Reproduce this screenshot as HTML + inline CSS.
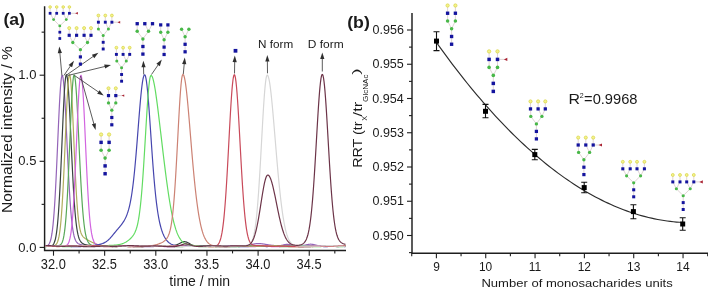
<!DOCTYPE html>
<html><head><meta charset="utf-8"><style>
html,body{margin:0;padding:0;background:#fff;}
svg{display:block;will-change:transform;filter:blur(0.45px);}
text{font-family:"Liberation Sans",sans-serif;fill:#1a1a1a;}
.t11{font-size:11.2px;}
.t13{font-size:13px;}
.t14{font-size:14px;}
.t15{font-size:15.3px;}
.sub{font-size:9px;}
.sup{font-size:9px;}
.lab{font-size:17px;font-weight:bold;fill:#000;}
</style></head><body>
<svg width="708" height="289" viewBox="0 0 708 289">
<rect width="708" height="289" fill="#fff"/>
<path d="M44.6 6.2 V250.4 H346" fill="none" stroke="#1e1e1e" stroke-width="1.45"/>
<line x1="39.6" y1="247.40" x2="44.6" y2="247.40" stroke="#1e1e1e" stroke-width="1.1"/>
<line x1="41.6" y1="204.35" x2="44.6" y2="204.35" stroke="#1e1e1e" stroke-width="1.1"/>
<line x1="39.6" y1="161.30" x2="44.6" y2="161.30" stroke="#1e1e1e" stroke-width="1.1"/>
<line x1="41.6" y1="118.25" x2="44.6" y2="118.25" stroke="#1e1e1e" stroke-width="1.1"/>
<line x1="39.6" y1="75.20" x2="44.6" y2="75.20" stroke="#1e1e1e" stroke-width="1.1"/>
<line x1="41.6" y1="32.15" x2="44.6" y2="32.15" stroke="#1e1e1e" stroke-width="1.1"/>
<line x1="53.50" y1="250.4" x2="53.50" y2="255.70000000000002" stroke="#1e1e1e" stroke-width="1.1"/>
<line x1="79.08" y1="250.4" x2="79.08" y2="253.4" stroke="#1e1e1e" stroke-width="1.1"/>
<line x1="104.65" y1="250.4" x2="104.65" y2="255.70000000000002" stroke="#1e1e1e" stroke-width="1.1"/>
<line x1="130.22" y1="250.4" x2="130.22" y2="253.4" stroke="#1e1e1e" stroke-width="1.1"/>
<line x1="155.80" y1="250.4" x2="155.80" y2="255.70000000000002" stroke="#1e1e1e" stroke-width="1.1"/>
<line x1="181.38" y1="250.4" x2="181.38" y2="253.4" stroke="#1e1e1e" stroke-width="1.1"/>
<line x1="206.95" y1="250.4" x2="206.95" y2="255.70000000000002" stroke="#1e1e1e" stroke-width="1.1"/>
<line x1="232.53" y1="250.4" x2="232.53" y2="253.4" stroke="#1e1e1e" stroke-width="1.1"/>
<line x1="258.10" y1="250.4" x2="258.10" y2="255.70000000000002" stroke="#1e1e1e" stroke-width="1.1"/>
<line x1="283.67" y1="250.4" x2="283.67" y2="253.4" stroke="#1e1e1e" stroke-width="1.1"/>
<line x1="309.25" y1="250.4" x2="309.25" y2="255.70000000000002" stroke="#1e1e1e" stroke-width="1.1"/>
<line x1="334.82" y1="250.4" x2="334.82" y2="253.4" stroke="#1e1e1e" stroke-width="1.1"/>
<text x="18.33" y="251.50" font-size="13.4" textLength="18.09" lengthAdjust="spacingAndGlyphs" >0.0</text>
<text x="18.33" y="165.40" font-size="13.4" textLength="18.09" lengthAdjust="spacingAndGlyphs" >0.5</text>
<text x="18.33" y="79.30" font-size="13.4" textLength="18.09" lengthAdjust="spacingAndGlyphs" >1.0</text>
<text x="40.84" y="269.30" font-size="13.8" textLength="24.94" lengthAdjust="spacingAndGlyphs" >32.0</text>
<text x="91.99" y="269.30" font-size="13.8" textLength="24.94" lengthAdjust="spacingAndGlyphs" >32.5</text>
<text x="143.14" y="269.30" font-size="13.8" textLength="24.94" lengthAdjust="spacingAndGlyphs" >33.0</text>
<text x="194.29" y="269.30" font-size="13.8" textLength="24.94" lengthAdjust="spacingAndGlyphs" >33.5</text>
<text x="245.44" y="269.30" font-size="13.8" textLength="24.94" lengthAdjust="spacingAndGlyphs" >34.0</text>
<text x="296.59" y="269.30" font-size="13.8" textLength="24.94" lengthAdjust="spacingAndGlyphs" >34.5</text>
<text x="169.39" y="286.10" font-size="13.8" textLength="60.71" lengthAdjust="spacingAndGlyphs" >time / min</text>
<text transform="translate(11.90,213.04) rotate(-90)" font-size="14.9" textLength="166.91" lengthAdjust="spacingAndGlyphs" >Normalized intensity / %</text>
<text x="3.42" y="25.00" font-size="17.0" font-weight="bold" textLength="21.51" lengthAdjust="spacingAndGlyphs" >(a)</text>
<path d="M45.50 246.34 L46.00 246.23 L46.50 246.09 L47.00 245.89 L47.50 245.62 L48.00 245.24 L48.50 244.74 L49.00 244.07 L49.50 243.18 L50.00 242.02 L50.50 240.52 L51.00 238.61 L51.50 236.20 L52.00 233.21 L52.50 229.55 L53.00 225.14 L53.50 219.90 L54.00 213.77 L54.50 206.71 L55.00 198.72 L55.50 189.81 L56.00 180.06 L56.50 169.58 L57.00 158.53 L57.50 147.12 L58.00 135.60 L58.50 124.27 L59.00 113.42 L59.50 103.39 L60.00 94.48 L60.50 87.00 L61.00 81.20 L61.50 77.29 L62.00 75.41 L62.50 75.59 L63.00 77.65 L63.50 81.50 L64.00 87.02 L64.50 94.02 L65.00 102.29 L65.50 111.58 L66.00 121.61 L66.50 132.12 L67.00 142.84 L67.50 153.53 L68.00 163.95 L68.50 173.94 L69.00 183.32 L69.50 192.01 L70.00 199.91 L70.50 206.99 L71.00 213.25 L71.50 218.70 L72.00 223.39 L72.50 227.37 L73.00 230.70 L73.50 233.47 L74.00 235.74 L74.50 237.59 L75.00 239.07 L75.50 240.26 L76.00 241.21 L76.50 241.96 L77.00 242.55 L77.50 243.03 L78.00 243.41 L78.50 243.71 L79.00 243.96 L79.50 244.17 L80.00 244.35 L80.50 244.50 L81.00 244.64 L81.50 244.76 L82.00 244.87 L82.50 244.97 L83.00 245.06 L83.50 245.15 L84.00 245.23 L84.50 245.31 L85.00 245.38 L85.50 245.45 L86.00 245.52 L86.50 245.58 L87.00 245.63 L87.50 245.69 L88.00 245.73 L88.50 245.78 L89.00 245.82 L89.50 245.86 L90.00 245.89 L90.50 245.92 L91.00 245.95 L91.50 245.97 L92.00 245.99 L92.50 246.00 L93.00 246.01 L93.50 246.02 L94.00 246.03 L94.50 246.03 L95.00 246.02 L95.50 246.02 L96.00 246.01 L96.50 246.00 L97.00 245.99 L97.50 245.97 L98.00 245.95 L98.50 245.94 L99.00 245.92 L99.50 245.90 L100.00 245.88 L100.50 245.86 L101.00 245.83 L101.50 245.81 L102.00 245.80 L102.50 245.78 L103.00 245.76 L103.50 245.75 L104.00 245.73 L104.50 245.72 L105.00 245.72 L105.50 245.71 L106.00 245.71 L106.50 245.71 L107.00 245.71 L107.50 245.72 L108.00 245.73 L108.50 245.74 L109.00 245.76 L109.50 245.77 L110.00 245.80 L110.50 245.82 L111.00 245.84 L111.50 245.87 L112.00 245.90 L112.50 245.93 L113.00 245.97 L113.50 246.00 L114.00 246.04 L114.50 246.07 L115.00 246.10 L115.50 246.14 L116.00 246.17 L116.50 246.21 L117.00 246.24 L117.50 246.27 L118.00 246.30 L118.50 246.32 L119.00 246.35 L119.50 246.37 L120.00 246.39 L120.50 246.40 L121.00 246.42 L121.50 246.43 L122.00 246.44 L122.50 246.44 L123.00 246.44 L123.50 246.44 L124.00 246.44 L124.50 246.44 L125.00 246.43 L125.50 246.42 L126.00 246.41 L126.50 246.40 L127.00 246.39 L127.50 246.38 L128.00 246.37 L128.50 246.35 L129.00 246.34 L129.50 246.33 L130.00 246.31 L130.50 246.30 L131.00 246.29 L131.50 246.28 L132.00 246.28 L132.50 246.27 L133.00 246.27 L133.50 246.27 L134.00 246.27 L134.50 246.28 L135.00 246.28 L135.50 246.29 L136.00 246.30 L136.50 246.32 L137.00 246.33 L137.50 246.35 L138.00 246.37 L138.50 246.39 L139.00 246.41 L139.50 246.44 L140.00 246.46 L140.50 246.48 L141.00 246.51 L141.50 246.54 L142.00 246.56 L142.50 246.58 L143.00 246.61 L143.50 246.63 L144.00 246.65 L144.50 246.67 L145.00 246.68 L145.50 246.70 L146.00 246.71 L146.50 246.72 L147.00 246.72 L147.50 246.72 L148.00 246.72 L148.50 246.72 L149.00 246.71 L149.50 246.70 L150.00 246.69 L150.50 246.67 L151.00 246.65 L151.50 246.63 L152.00 246.61 L152.50 246.58 L153.00 246.56 L153.50 246.53 L154.00 246.50 L154.50 246.46 L155.00 246.43 L155.50 246.40 L156.00 246.36 L156.50 246.33 L157.00 246.30 L157.50 246.27 L158.00 246.24 L158.50 246.21 L159.00 246.18 L159.50 246.16 L160.00 246.13 L160.50 246.11 L161.00 246.09 L161.50 246.08 L162.00 246.07 L162.50 246.05 L163.00 246.05 L163.50 246.04 L164.00 246.04 L164.50 246.04 L165.00 246.04 L165.50 246.04 L166.00 246.05 L166.50 246.06 L167.00 246.07 L167.50 246.08 L168.00 246.09 L168.50 246.10 L169.00 246.11 L169.50 246.12 L170.00 246.13 L170.50 246.15 L171.00 246.16 L171.50 246.17 L172.00 246.17 L172.50 246.18 L173.00 246.18 L173.50 246.19 L174.00 246.19 L174.50 246.19 L175.00 246.18 L175.50 246.17 L176.00 246.17 L176.50 246.15 L177.00 246.14 L177.50 246.12 L178.00 246.10 L178.50 246.08 L179.00 246.06 L179.50 246.04 L180.00 246.01 L180.50 245.99 L181.00 245.96 L181.50 245.93 L182.00 245.90 L182.50 245.87 L183.00 245.85 L183.50 245.82 L184.00 245.79 L184.50 245.77 L185.00 245.75 L185.50 245.72 L186.00 245.70 L186.50 245.69 L187.00 245.67 L187.50 245.66 L188.00 245.65 L188.50 245.65 L189.00 245.65 L189.50 245.65 L190.00 245.65 L190.50 245.66 L191.00 245.67 L191.50 245.68 L192.00 245.70 L192.50 245.71 L193.00 245.74 L193.50 245.76 L194.00 245.78 L194.50 245.81 L195.00 245.84 L195.50 245.87 L196.00 245.90 L196.50 245.93 L197.00 245.96 L197.50 245.99 L198.00 246.02 L198.50 246.05 L199.00 246.08 L199.50 246.10 L200.00 246.13 L200.50 246.15 L201.00 246.17 L201.50 246.19 L202.00 246.21 L202.50 246.22 L203.00 246.24 L203.50 246.25 L204.00 246.25 L204.50 246.26 L205.00 246.26 L205.50 246.26 L206.00 246.26 L206.50 246.25 L207.00 246.25 L207.50 246.24 L208.00 246.23 L208.50 246.22 L209.00 246.21 L209.50 246.20 L210.00 246.18 L210.50 246.17 L211.00 246.16 L211.50 246.15 L212.00 246.14 L212.50 246.13 L213.00 246.13 L213.50 246.12 L214.00 246.12 L214.50 246.12 L215.00 246.12 L215.50 246.12 L216.00 246.13 L216.50 246.14 L217.00 246.15 L217.50 246.16 L218.00 246.18 L218.50 246.20 L219.00 246.22 L219.50 246.24 L220.00 246.27 L220.50 246.29 L221.00 246.32 L221.50 246.35 L222.00 246.38 L222.50 246.41 L223.00 246.44 L223.50 246.47 L224.00 246.50 L224.50 246.53 L225.00 246.56 L225.50 246.59 L226.00 246.62 L226.50 246.64 L227.00 246.66 L227.50 246.68 L228.00 246.70 L228.50 246.71 L229.00 246.72 L229.50 246.73 L230.00 246.74 L230.50 246.74 L231.00 246.74 L231.50 246.74 L232.00 246.73 L232.50 246.72 L233.00 246.70 L233.50 246.69 L234.00 246.67 L234.50 246.64 L235.00 246.62 L235.50 246.59 L236.00 246.56 L236.50 246.53 L237.00 246.50 L237.50 246.46 L238.00 246.43 L238.50 246.39 L239.00 246.35 L239.50 246.31 L240.00 246.27 L240.50 246.22 L241.00 246.18 L241.50 246.13 L242.00 246.08 L242.50 246.03 L243.00 245.97 L243.50 245.92 L244.00 245.85 L244.50 245.79 L245.00 245.72 L245.50 245.65 L246.00 245.58 L246.50 245.50 L247.00 245.42 L247.50 245.33 L248.00 245.24 L248.50 245.14 L249.00 245.05 L249.50 244.94 L250.00 244.84 L250.50 244.73 L251.00 244.63 L251.50 244.52 L252.00 244.41 L252.50 244.31 L253.00 244.21 L253.50 244.11 L254.00 244.02 L254.50 243.93 L255.00 243.85 L255.50 243.78 L256.00 243.72 L256.50 243.67 L257.00 243.62 L257.50 243.59 L258.00 243.57 L258.50 243.57 L259.00 243.57 L259.50 243.58 L260.00 243.61 L260.50 243.64 L261.00 243.69 L261.50 243.74 L262.00 243.80 L262.50 243.87 L263.00 243.95 L263.50 244.02 L264.00 244.11 L264.50 244.19 L265.00 244.28 L265.50 244.36 L266.00 244.45 L266.50 244.54 L267.00 244.62 L267.50 244.70 L268.00 244.78 L268.50 244.86 L269.00 244.93 L269.50 245.00 L270.00 245.06 L270.50 245.13 L271.00 245.19 L271.50 245.24 L272.00 245.30 L272.50 245.35 L273.00 245.39 L273.50 245.44 L274.00 245.48 L274.50 245.52 L275.00 245.55 L275.50 245.59 L276.00 245.61 L276.50 245.64 L277.00 245.65 L277.50 245.66 L278.00 245.66 L278.50 245.65 L279.00 245.63 L279.50 245.60 L280.00 245.55 L280.50 245.49 L281.00 245.42 L281.50 245.33 L282.00 245.23 L282.50 245.13 L283.00 245.01 L283.50 244.90 L284.00 244.78 L284.50 244.68 L285.00 244.58 L285.50 244.50 L286.00 244.44 L286.50 244.40 L287.00 244.39 L287.50 244.40 L288.00 244.43 L288.50 244.49 L289.00 244.56 L289.50 244.65 L290.00 244.76 L290.50 244.87 L291.00 244.99 L291.50 245.10 L292.00 245.21 L292.50 245.32 L293.00 245.42 L293.50 245.50 L294.00 245.58 L294.50 245.64 L295.00 245.69 L295.50 245.74 L296.00 245.77 L296.50 245.79 L297.00 245.81 L297.50 245.82 L298.00 245.82 L298.50 245.82 L299.00 245.81 L299.50 245.80 L300.00 245.78 L300.50 245.75 L301.00 245.71 L301.50 245.67 L302.00 245.62 L302.50 245.56 L303.00 245.49 L303.50 245.41 L304.00 245.32 L304.50 245.22 L305.00 245.12 L305.50 245.01 L306.00 244.90 L306.50 244.79 L307.00 244.68 L307.50 244.58 L308.00 244.48 L308.50 244.40 L309.00 244.32 L309.50 244.27 L310.00 244.23 L310.50 244.22 L311.00 244.22 L311.50 244.25 L312.00 244.30 L312.50 244.36 L313.00 244.45 L313.50 244.55 L314.00 244.66 L314.50 244.78 L315.00 244.91 L315.50 245.05 L316.00 245.18 L316.50 245.31 L317.00 245.44 L317.50 245.56 L318.00 245.67 L318.50 245.77 L319.00 245.87 L319.50 245.95 L320.00 246.02 L320.50 246.08 L321.00 246.12 L321.50 246.17 L322.00 246.20 L322.50 246.22 L323.00 246.24 L323.50 246.26 L324.00 246.27 L324.50 246.28 L325.00 246.28 L325.50 246.29 L326.00 246.29 L326.50 246.30 L327.00 246.31 L327.50 246.31 L328.00 246.32 L328.50 246.33 L329.00 246.34 L329.50 246.35 L330.00 246.37 L330.50 246.38 L331.00 246.39 L331.50 246.41 L332.00 246.43 L332.50 246.44 L333.00 246.46 L333.50 246.47 L334.00 246.49 L334.50 246.50 L335.00 246.51 L335.50 246.52 L336.00 246.53 L336.50 246.54 L337.00 246.54 L337.50 246.54 L338.00 246.54 L338.50 246.54 L339.00 246.53 L339.50 246.52 L340.00 246.51 L340.50 246.50 L341.00 246.48 L341.50 246.46 L342.00 246.44 L342.50 246.41 L343.00 246.38 L343.50 246.35 L344.00 246.32 L344.50 246.29 L345.00 246.26 L345.50 246.22" fill="none" stroke="#9464b8" stroke-width="1.2" stroke-linejoin="round"/>
<path d="M45.50 246.30 L46.00 246.31 L46.50 246.31 L47.00 246.31 L47.50 246.31 L48.00 246.31 L48.50 246.31 L49.00 246.30 L49.50 246.27 L50.00 246.23 L50.50 246.16 L51.00 246.05 L51.50 245.88 L52.00 245.64 L52.50 245.30 L53.00 244.82 L53.50 244.16 L54.00 243.27 L54.50 242.08 L55.00 240.53 L55.50 238.54 L56.00 236.02 L56.50 232.87 L57.00 229.01 L57.50 224.34 L58.00 218.78 L58.50 212.28 L59.00 204.79 L59.50 196.32 L60.00 186.91 L60.50 176.65 L61.00 165.67 L61.50 154.16 L62.00 142.37 L62.50 130.58 L63.00 119.11 L63.50 108.30 L64.00 98.50 L64.50 90.03 L65.00 83.20 L65.50 78.26 L66.00 75.38 L66.50 74.68 L67.00 76.00 L67.50 79.22 L68.00 84.21 L68.50 90.82 L69.00 98.82 L69.50 107.95 L70.00 117.94 L70.50 128.49 L71.00 139.34 L71.50 150.20 L72.00 160.85 L72.50 171.07 L73.00 180.71 L73.50 189.63 L74.00 197.76 L74.50 205.05 L75.00 211.50 L75.50 217.12 L76.00 221.95 L76.50 226.06 L77.00 229.50 L77.50 232.37 L78.00 234.72 L78.50 236.65 L79.00 238.21 L79.50 239.47 L80.00 240.49 L80.50 241.31 L81.00 241.97 L81.50 242.51 L82.00 242.96 L82.50 243.32 L83.00 243.63 L83.50 243.90 L84.00 244.12 L84.50 244.32 L85.00 244.49 L85.50 244.65 L86.00 244.78 L86.50 244.90 L87.00 245.01 L87.50 245.11 L88.00 245.19 L88.50 245.27 L89.00 245.33 L89.50 245.39 L90.00 245.44 L90.50 245.48 L91.00 245.52 L91.50 245.55 L92.00 245.58 L92.50 245.60 L93.00 245.62 L93.50 245.64 L94.00 245.65 L94.50 245.66 L95.00 245.67 L95.50 245.69 L96.00 245.70 L96.50 245.71 L97.00 245.72 L97.50 245.73 L98.00 245.75 L98.50 245.76 L99.00 245.78 L99.50 245.80 L100.00 245.82 L100.50 245.85 L101.00 245.87 L101.50 245.90 L102.00 245.93 L102.50 245.96 L103.00 246.00 L103.50 246.03 L104.00 246.07 L104.50 246.10 L105.00 246.14 L105.50 246.17 L106.00 246.21 L106.50 246.25 L107.00 246.28 L107.50 246.32 L108.00 246.35 L108.50 246.38 L109.00 246.41 L109.50 246.44 L110.00 246.46 L110.50 246.49 L111.00 246.51 L111.50 246.52 L112.00 246.54 L112.50 246.55 L113.00 246.56 L113.50 246.57 L114.00 246.57 L114.50 246.57 L115.00 246.57 L115.50 246.56 L116.00 246.55 L116.50 246.54 L117.00 246.53 L117.50 246.52 L118.00 246.51 L118.50 246.49 L119.00 246.47 L119.50 246.46 L120.00 246.44 L120.50 246.43 L121.00 246.41 L121.50 246.39 L122.00 246.38 L122.50 246.37 L123.00 246.36 L123.50 246.35 L124.00 246.34 L124.50 246.33 L125.00 246.33 L125.50 246.33 L126.00 246.33 L126.50 246.33 L127.00 246.34 L127.50 246.34 L128.00 246.35 L128.50 246.36 L129.00 246.38 L129.50 246.39 L130.00 246.41 L130.50 246.43 L131.00 246.45 L131.50 246.47 L132.00 246.49 L132.50 246.51 L133.00 246.53 L133.50 246.55 L134.00 246.57 L134.50 246.59 L135.00 246.60 L135.50 246.62 L136.00 246.63 L136.50 246.64 L137.00 246.65 L137.50 246.65 L138.00 246.66 L138.50 246.66 L139.00 246.65 L139.50 246.65 L140.00 246.64 L140.50 246.63 L141.00 246.61 L141.50 246.60 L142.00 246.57 L142.50 246.55 L143.00 246.53 L143.50 246.50 L144.00 246.47 L144.50 246.44 L145.00 246.40 L145.50 246.37 L146.00 246.34 L146.50 246.30 L147.00 246.27 L147.50 246.23 L148.00 246.20 L148.50 246.16 L149.00 246.13 L149.50 246.10 L150.00 246.07 L150.50 246.04 L151.00 246.02 L151.50 245.99 L152.00 245.97 L152.50 245.95 L153.00 245.94 L153.50 245.93 L154.00 245.92 L154.50 245.91 L155.00 245.91 L155.50 245.90 L156.00 245.91 L156.50 245.91 L157.00 245.92 L157.50 245.92 L158.00 245.93 L158.50 245.94 L159.00 245.96 L159.50 245.97 L160.00 245.98 L160.50 246.00 L161.00 246.01 L161.50 246.02 L162.00 246.04 L162.50 246.05 L163.00 246.06 L163.50 246.07 L164.00 246.08 L164.50 246.09 L165.00 246.09 L165.50 246.09 L166.00 246.09 L166.50 246.09 L167.00 246.09 L167.50 246.08 L168.00 246.07 L168.50 246.05 L169.00 246.03 L169.50 246.01 L170.00 245.98 L170.50 245.95 L171.00 245.91 L171.50 245.87 L172.00 245.82 L172.50 245.76 L173.00 245.69 L173.50 245.61 L174.00 245.51 L174.50 245.41 L175.00 245.28 L175.50 245.14 L176.00 244.99 L176.50 244.81 L177.00 244.62 L177.50 244.41 L178.00 244.18 L178.50 243.94 L179.00 243.69 L179.50 243.44 L180.00 243.18 L180.50 242.92 L181.00 242.67 L181.50 242.44 L182.00 242.23 L182.50 242.04 L183.00 241.90 L183.50 241.78 L184.00 241.72 L184.50 241.69 L185.00 241.72 L185.50 241.79 L186.00 241.90 L186.50 242.06 L187.00 242.25 L187.50 242.48 L188.00 242.73 L188.50 243.00 L189.00 243.29 L189.50 243.58 L190.00 243.87 L190.50 244.16 L191.00 244.43 L191.50 244.70 L192.00 244.94 L192.50 245.16 L193.00 245.36 L193.50 245.54 L194.00 245.70 L194.50 245.83 L195.00 245.95 L195.50 246.04 L196.00 246.12 L196.50 246.18 L197.00 246.23 L197.50 246.26 L198.00 246.29 L198.50 246.31 L199.00 246.32 L199.50 246.32 L200.00 246.32 L200.50 246.32 L201.00 246.31 L201.50 246.30 L202.00 246.29 L202.50 246.28 L203.00 246.27 L203.50 246.26 L204.00 246.25 L204.50 246.25 L205.00 246.24 L205.50 246.24 L206.00 246.23 L206.50 246.23 L207.00 246.24 L207.50 246.24 L208.00 246.25 L208.50 246.26 L209.00 246.27 L209.50 246.28 L210.00 246.30 L210.50 246.32 L211.00 246.34 L211.50 246.36 L212.00 246.38 L212.50 246.41 L213.00 246.43 L213.50 246.46 L214.00 246.49 L214.50 246.51 L215.00 246.54 L215.50 246.57 L216.00 246.59 L216.50 246.61 L217.00 246.64 L217.50 246.66 L218.00 246.68 L218.50 246.69 L219.00 246.71 L219.50 246.72 L220.00 246.73 L220.50 246.73 L221.00 246.74 L221.50 246.74 L222.00 246.73 L222.50 246.73 L223.00 246.72 L223.50 246.70 L224.00 246.69 L224.50 246.67 L225.00 246.65 L225.50 246.63 L226.00 246.60 L226.50 246.57 L227.00 246.55 L227.50 246.52 L228.00 246.48 L228.50 246.45 L229.00 246.42 L229.50 246.39 L230.00 246.36 L230.50 246.33 L231.00 246.30 L231.50 246.27 L232.00 246.24 L232.50 246.22 L233.00 246.19 L233.50 246.17 L234.00 246.15 L234.50 246.14 L235.00 246.12 L235.50 246.11 L236.00 246.10 L236.50 246.10 L237.00 246.09 L237.50 246.09 L238.00 246.09 L238.50 246.09 L239.00 246.10 L239.50 246.11 L240.00 246.11 L240.50 246.12 L241.00 246.13 L241.50 246.15 L242.00 246.16 L242.50 246.17 L243.00 246.18 L243.50 246.19 L244.00 246.20 L244.50 246.21 L245.00 246.22 L245.50 246.23 L246.00 246.23 L246.50 246.23 L247.00 246.23 L247.50 246.23 L248.00 246.23 L248.50 246.22 L249.00 246.21 L249.50 246.20 L250.00 246.19 L250.50 246.17 L251.00 246.15 L251.50 246.13 L252.00 246.11 L252.50 246.08 L253.00 246.06 L253.50 246.03 L254.00 246.00 L254.50 245.97 L255.00 245.94 L255.50 245.91 L256.00 245.88 L256.50 245.85 L257.00 245.82 L257.50 245.80 L258.00 245.77 L258.50 245.75 L259.00 245.73 L259.50 245.71 L260.00 245.69 L260.50 245.67 L261.00 245.66 L261.50 245.65 L262.00 245.65 L262.50 245.64 L263.00 245.64 L263.50 245.65 L264.00 245.65 L264.50 245.66 L265.00 245.68 L265.50 245.69 L266.00 245.71 L266.50 245.73 L267.00 245.75 L267.50 245.78 L268.00 245.80 L268.50 245.83 L269.00 245.86 L269.50 245.89 L270.00 245.92 L270.50 245.94 L271.00 245.97 L271.50 246.00 L272.00 246.03 L272.50 246.05 L273.00 246.08 L273.50 246.10 L274.00 246.12 L274.50 246.14 L275.00 246.16 L275.50 246.17 L276.00 246.19 L276.50 246.20 L277.00 246.20 L277.50 246.21 L278.00 246.21 L278.50 246.21 L279.00 246.21 L279.50 246.20 L280.00 246.20 L280.50 246.19 L281.00 246.18 L281.50 246.17 L282.00 246.16 L282.50 246.15 L283.00 246.14 L283.50 246.13 L284.00 246.11 L284.50 246.10 L285.00 246.09 L285.50 246.08 L286.00 246.08 L286.50 246.07 L287.00 246.07 L287.50 246.07 L288.00 246.07 L288.50 246.07 L289.00 246.07 L289.50 246.08 L290.00 246.09 L290.50 246.11 L291.00 246.12 L291.50 246.14 L292.00 246.16 L292.50 246.18 L293.00 246.21 L293.50 246.23 L294.00 246.26 L294.50 246.29 L295.00 246.32 L295.50 246.36 L296.00 246.39 L296.50 246.42 L297.00 246.45 L297.50 246.48 L298.00 246.52 L298.50 246.55 L299.00 246.57 L299.50 246.60 L300.00 246.63 L300.50 246.65 L301.00 246.67 L301.50 246.69 L302.00 246.70 L302.50 246.71 L303.00 246.72 L303.50 246.73 L304.00 246.73 L304.50 246.73 L305.00 246.73 L305.50 246.72 L306.00 246.71 L306.50 246.70 L307.00 246.68 L307.50 246.67 L308.00 246.65 L308.50 246.63 L309.00 246.60 L309.50 246.58 L310.00 246.56 L310.50 246.53 L311.00 246.50 L311.50 246.48 L312.00 246.45 L312.50 246.43 L313.00 246.40 L313.50 246.38 L314.00 246.36 L314.50 246.34 L315.00 246.32 L315.50 246.30 L316.00 246.29 L316.50 246.28 L317.00 246.27 L317.50 246.26 L318.00 246.25 L318.50 246.25 L319.00 246.25 L319.50 246.25 L320.00 246.26 L320.50 246.26 L321.00 246.27 L321.50 246.28 L322.00 246.29 L322.50 246.30 L323.00 246.32 L323.50 246.33 L324.00 246.34 L324.50 246.35 L325.00 246.37 L325.50 246.38 L326.00 246.39 L326.50 246.40 L327.00 246.41 L327.50 246.41 L328.00 246.42 L328.50 246.42 L329.00 246.42 L329.50 246.41 L330.00 246.41 L330.50 246.40 L331.00 246.39 L331.50 246.37 L332.00 246.36 L332.50 246.34 L333.00 246.32 L333.50 246.29 L334.00 246.27 L334.50 246.24 L335.00 246.21 L335.50 246.18 L336.00 246.15 L336.50 246.11 L337.00 246.08 L337.50 246.04 L338.00 246.01 L338.50 245.98 L339.00 245.94 L339.50 245.91 L340.00 245.88 L340.50 245.85 L341.00 245.82 L341.50 245.80 L342.00 245.77 L342.50 245.75 L343.00 245.74 L343.50 245.72 L344.00 245.71 L344.50 245.70 L345.00 245.70 L345.50 245.69" fill="none" stroke="#38423f" stroke-width="1.2" stroke-linejoin="round"/>
<path d="M45.50 246.37 L46.00 246.37 L46.50 246.38 L47.00 246.38 L47.50 246.37 L48.00 246.37 L48.50 246.36 L49.00 246.35 L49.50 246.33 L50.00 246.31 L50.50 246.29 L51.00 246.26 L51.50 246.22 L52.00 246.18 L52.50 246.12 L53.00 246.04 L53.50 245.94 L54.00 245.80 L54.50 245.61 L55.00 245.35 L55.50 245.01 L56.00 244.54 L56.50 243.91 L57.00 243.08 L57.50 241.98 L58.00 240.55 L58.50 238.72 L59.00 236.39 L59.50 233.48 L60.00 229.90 L60.50 225.55 L61.00 220.35 L61.50 214.23 L62.00 207.14 L62.50 199.08 L63.00 190.05 L63.50 180.14 L64.00 169.45 L64.50 158.16 L65.00 146.49 L65.50 134.70 L66.00 123.11 L66.50 112.04 L67.00 101.85 L67.50 92.87 L68.00 85.40 L68.50 79.74 L69.00 76.07 L69.50 74.55 L70.00 75.29 L70.50 78.34 L71.00 83.58 L71.50 90.78 L72.00 99.65 L72.50 109.83 L73.00 120.93 L73.50 132.57 L74.00 144.37 L74.50 155.99 L75.00 167.13 L75.50 177.57 L76.00 187.13 L76.50 195.71 L77.00 203.26 L77.50 209.79 L78.00 215.33 L78.50 219.96 L79.00 223.77 L79.50 226.87 L80.00 229.36 L80.50 231.35 L81.00 232.92 L81.50 234.16 L82.00 235.15 L82.50 235.94 L83.00 236.58 L83.50 237.11 L84.00 237.57 L84.50 237.97 L85.00 238.33 L85.50 238.67 L86.00 238.98 L86.50 239.28 L87.00 239.57 L87.50 239.86 L88.00 240.13 L88.50 240.41 L89.00 240.68 L89.50 240.94 L90.00 241.20 L90.50 241.46 L91.00 241.71 L91.50 241.96 L92.00 242.20 L92.50 242.44 L93.00 242.67 L93.50 242.90 L94.00 243.12 L94.50 243.33 L95.00 243.54 L95.50 243.74 L96.00 243.94 L96.50 244.13 L97.00 244.31 L97.50 244.48 L98.00 244.64 L98.50 244.80 L99.00 244.95 L99.50 245.09 L100.00 245.22 L100.50 245.35 L101.00 245.46 L101.50 245.57 L102.00 245.67 L102.50 245.76 L103.00 245.85 L103.50 245.92 L104.00 245.99 L104.50 246.05 L105.00 246.11 L105.50 246.15 L106.00 246.19 L106.50 246.23 L107.00 246.26 L107.50 246.28 L108.00 246.30 L108.50 246.31 L109.00 246.33 L109.50 246.33 L110.00 246.33 L110.50 246.34 L111.00 246.33 L111.50 246.33 L112.00 246.33 L112.50 246.32 L113.00 246.31 L113.50 246.31 L114.00 246.30 L114.50 246.29 L115.00 246.29 L115.50 246.29 L116.00 246.28 L116.50 246.28 L117.00 246.28 L117.50 246.28 L118.00 246.29 L118.50 246.29 L119.00 246.30 L119.50 246.31 L120.00 246.32 L120.50 246.33 L121.00 246.35 L121.50 246.36 L122.00 246.38 L122.50 246.39 L123.00 246.41 L123.50 246.43 L124.00 246.45 L124.50 246.46 L125.00 246.48 L125.50 246.49 L126.00 246.51 L126.50 246.52 L127.00 246.53 L127.50 246.54 L128.00 246.55 L128.50 246.55 L129.00 246.55 L129.50 246.55 L130.00 246.55 L130.50 246.54 L131.00 246.53 L131.50 246.52 L132.00 246.51 L132.50 246.49 L133.00 246.47 L133.50 246.44 L134.00 246.42 L134.50 246.39 L135.00 246.36 L135.50 246.33 L136.00 246.29 L136.50 246.26 L137.00 246.23 L137.50 246.19 L138.00 246.15 L138.50 246.12 L139.00 246.08 L139.50 246.05 L140.00 246.02 L140.50 245.98 L141.00 245.95 L141.50 245.93 L142.00 245.90 L142.50 245.88 L143.00 245.85 L143.50 245.84 L144.00 245.82 L144.50 245.81 L145.00 245.80 L145.50 245.79 L146.00 245.79 L146.50 245.79 L147.00 245.79 L147.50 245.79 L148.00 245.80 L148.50 245.81 L149.00 245.82 L149.50 245.83 L150.00 245.85 L150.50 245.86 L151.00 245.88 L151.50 245.90 L152.00 245.92 L152.50 245.93 L153.00 245.95 L153.50 245.97 L154.00 245.99 L154.50 246.00 L155.00 246.01 L155.50 246.03 L156.00 246.04 L156.50 246.04 L157.00 246.05 L157.50 246.06 L158.00 246.06 L158.50 246.06 L159.00 246.05 L159.50 246.05 L160.00 246.04 L160.50 246.03 L161.00 246.02 L161.50 246.01 L162.00 245.99 L162.50 245.98 L163.00 245.96 L163.50 245.94 L164.00 245.92 L164.50 245.90 L165.00 245.89 L165.50 245.87 L166.00 245.85 L166.50 245.83 L167.00 245.82 L167.50 245.80 L168.00 245.79 L168.50 245.78 L169.00 245.77 L169.50 245.76 L170.00 245.76 L170.50 245.76 L171.00 245.76 L171.50 245.77 L172.00 245.77 L172.50 245.79 L173.00 245.80 L173.50 245.82 L174.00 245.84 L174.50 245.86 L175.00 245.88 L175.50 245.91 L176.00 245.94 L176.50 245.97 L177.00 246.00 L177.50 246.04 L178.00 246.07 L178.50 246.11 L179.00 246.14 L179.50 246.18 L180.00 246.21 L180.50 246.25 L181.00 246.28 L181.50 246.31 L182.00 246.34 L182.50 246.37 L183.00 246.40 L183.50 246.42 L184.00 246.45 L184.50 246.47 L185.00 246.48 L185.50 246.50 L186.00 246.51 L186.50 246.51 L187.00 246.52 L187.50 246.52 L188.00 246.52 L188.50 246.52 L189.00 246.51 L189.50 246.51 L190.00 246.50 L190.50 246.49 L191.00 246.47 L191.50 246.46 L192.00 246.45 L192.50 246.43 L193.00 246.42 L193.50 246.40 L194.00 246.39 L194.50 246.37 L195.00 246.36 L195.50 246.35 L196.00 246.34 L196.50 246.33 L197.00 246.32 L197.50 246.31 L198.00 246.31 L198.50 246.31 L199.00 246.31 L199.50 246.32 L200.00 246.32 L200.50 246.33 L201.00 246.34 L201.50 246.35 L202.00 246.37 L202.50 246.38 L203.00 246.40 L203.50 246.42 L204.00 246.44 L204.50 246.46 L205.00 246.49 L205.50 246.51 L206.00 246.53 L206.50 246.55 L207.00 246.57 L207.50 246.59 L208.00 246.61 L208.50 246.63 L209.00 246.65 L209.50 246.66 L210.00 246.67 L210.50 246.68 L211.00 246.68 L211.50 246.69 L212.00 246.69 L212.50 246.69 L213.00 246.68 L213.50 246.67 L214.00 246.66 L214.50 246.64 L215.00 246.63 L215.50 246.61 L216.00 246.58 L216.50 246.56 L217.00 246.53 L217.50 246.50 L218.00 246.47 L218.50 246.44 L219.00 246.40 L219.50 246.37 L220.00 246.33 L220.50 246.30 L221.00 246.26 L221.50 246.23 L222.00 246.20 L222.50 246.17 L223.00 246.14 L223.50 246.11 L224.00 246.08 L224.50 246.06 L225.00 246.04 L225.50 246.02 L226.00 246.00 L226.50 245.99 L227.00 245.97 L227.50 245.97 L228.00 245.96 L228.50 245.96 L229.00 245.96 L229.50 245.96 L230.00 245.96 L230.50 245.97 L231.00 245.98 L231.50 245.99 L232.00 246.00 L232.50 246.01 L233.00 246.02 L233.50 246.03 L234.00 246.05 L234.50 246.06 L235.00 246.07 L235.50 246.08 L236.00 246.10 L236.50 246.11 L237.00 246.11 L237.50 246.12 L238.00 246.12 L238.50 246.13 L239.00 246.13 L239.50 246.12 L240.00 246.12 L240.50 246.11 L241.00 246.10 L241.50 246.09 L242.00 246.08 L242.50 246.06 L243.00 246.05 L243.50 246.03 L244.00 246.00 L244.50 245.98 L245.00 245.96 L245.50 245.93 L246.00 245.91 L246.50 245.88 L247.00 245.86 L247.50 245.83 L248.00 245.81 L248.50 245.78 L249.00 245.76 L249.50 245.74 L250.00 245.72 L250.50 245.71 L251.00 245.69 L251.50 245.68 L252.00 245.67 L252.50 245.67 L253.00 245.66 L253.50 245.66 L254.00 245.67 L254.50 245.67 L255.00 245.68 L255.50 245.69 L256.00 245.71 L256.50 245.73 L257.00 245.75 L257.50 245.77 L258.00 245.80 L258.50 245.82 L259.00 245.85 L259.50 245.88 L260.00 245.91 L260.50 245.95 L261.00 245.98 L261.50 246.01 L262.00 246.04 L262.50 246.08 L263.00 246.11 L263.50 246.14 L264.00 246.17 L264.50 246.19 L265.00 246.22 L265.50 246.24 L266.00 246.26 L266.50 246.28 L267.00 246.30 L267.50 246.31 L268.00 246.32 L268.50 246.33 L269.00 246.34 L269.50 246.34 L270.00 246.34 L270.50 246.34 L271.00 246.33 L271.50 246.33 L272.00 246.32 L272.50 246.31 L273.00 246.30 L273.50 246.29 L274.00 246.28 L274.50 246.27 L275.00 246.25 L275.50 246.24 L276.00 246.23 L276.50 246.22 L277.00 246.21 L277.50 246.20 L278.00 246.20 L278.50 246.19 L279.00 246.19 L279.50 246.19 L280.00 246.19 L280.50 246.20 L281.00 246.20 L281.50 246.21 L282.00 246.23 L282.50 246.24 L283.00 246.26 L283.50 246.27 L284.00 246.30 L284.50 246.32 L285.00 246.34 L285.50 246.37 L286.00 246.39 L286.50 246.42 L287.00 246.45 L287.50 246.48 L288.00 246.51 L288.50 246.54 L289.00 246.56 L289.50 246.59 L290.00 246.62 L290.50 246.64 L291.00 246.66 L291.50 246.68 L292.00 246.70 L292.50 246.71 L293.00 246.73 L293.50 246.73 L294.00 246.74 L294.50 246.74 L295.00 246.74 L295.50 246.74 L296.00 246.73 L296.50 246.73 L297.00 246.71 L297.50 246.70 L298.00 246.68 L298.50 246.66 L299.00 246.64 L299.50 246.61 L300.00 246.59 L300.50 246.56 L301.00 246.53 L301.50 246.50 L302.00 246.47 L302.50 246.44 L303.00 246.41 L303.50 246.38 L304.00 246.35 L304.50 246.32 L305.00 246.30 L305.50 246.27 L306.00 246.25 L306.50 246.23 L307.00 246.21 L307.50 246.19 L308.00 246.18 L308.50 246.16 L309.00 246.15 L309.50 246.15 L310.00 246.14 L310.50 246.14 L311.00 246.14 L311.50 246.14 L312.00 246.15 L312.50 246.15 L313.00 246.16 L313.50 246.17 L314.00 246.18 L314.50 246.19 L315.00 246.20 L315.50 246.22 L316.00 246.23 L316.50 246.24 L317.00 246.25 L317.50 246.26 L318.00 246.27 L318.50 246.27 L319.00 246.28 L319.50 246.28 L320.00 246.28 L320.50 246.28 L321.00 246.28 L321.50 246.27 L322.00 246.26 L322.50 246.25 L323.00 246.24 L323.50 246.22 L324.00 246.20 L324.50 246.18 L325.00 246.16 L325.50 246.14 L326.00 246.11 L326.50 246.08 L327.00 246.05 L327.50 246.02 L328.00 245.99 L328.50 245.96 L329.00 245.93 L329.50 245.90 L330.00 245.87 L330.50 245.84 L331.00 245.81 L331.50 245.78 L332.00 245.76 L332.50 245.73 L333.00 245.71 L333.50 245.70 L334.00 245.68 L334.50 245.67 L335.00 245.66 L335.50 245.65 L336.00 245.65 L336.50 245.65 L337.00 245.65 L337.50 245.66 L338.00 245.67 L338.50 245.68 L339.00 245.69 L339.50 245.71 L340.00 245.73 L340.50 245.75 L341.00 245.78 L341.50 245.80 L342.00 245.83 L342.50 245.85 L343.00 245.88 L343.50 245.91 L344.00 245.93 L344.50 245.96 L345.00 245.99 L345.50 246.01" fill="none" stroke="#b0ae5c" stroke-width="1.2" stroke-linejoin="round"/>
<path d="M45.50 246.00 L46.00 245.97 L46.50 245.94 L47.00 245.91 L47.50 245.88 L48.00 245.85 L48.50 245.82 L49.00 245.80 L49.50 245.77 L50.00 245.75 L50.50 245.72 L51.00 245.70 L51.50 245.69 L52.00 245.67 L52.50 245.66 L53.00 245.65 L53.50 245.65 L54.00 245.64 L54.50 245.64 L55.00 245.64 L55.50 245.64 L56.00 245.64 L56.50 245.64 L57.00 245.63 L57.50 245.61 L58.00 245.58 L58.50 245.52 L59.00 245.42 L59.50 245.27 L60.00 245.04 L60.50 244.71 L61.00 244.23 L61.50 243.58 L62.00 242.68 L62.50 241.47 L63.00 239.88 L63.50 237.82 L64.00 235.19 L64.50 231.90 L65.00 227.85 L65.50 222.93 L66.00 217.08 L66.50 210.22 L67.00 202.33 L67.50 193.42 L68.00 183.55 L68.50 172.82 L69.00 161.40 L69.50 149.52 L70.00 137.45 L70.50 125.51 L71.00 114.06 L71.50 103.47 L72.00 94.10 L72.50 86.29 L73.00 80.33 L73.50 76.47 L74.00 74.84 L74.50 75.38 L75.00 77.77 L75.50 81.93 L76.00 87.71 L76.50 94.94 L77.00 103.38 L77.50 112.79 L78.00 122.90 L78.50 133.43 L79.00 144.14 L79.50 154.77 L80.00 165.12 L80.50 175.00 L81.00 184.28 L81.50 192.85 L82.00 200.63 L82.50 207.61 L83.00 213.78 L83.50 219.16 L84.00 223.79 L84.50 227.74 L85.00 231.06 L85.50 233.83 L86.00 236.12 L86.50 237.99 L87.00 239.52 L87.50 240.76 L88.00 241.77 L88.50 242.58 L89.00 243.24 L89.50 243.77 L90.00 244.21 L90.50 244.57 L91.00 244.88 L91.50 245.13 L92.00 245.35 L92.50 245.53 L93.00 245.69 L93.50 245.83 L94.00 245.95 L94.50 246.05 L95.00 246.14 L95.50 246.22 L96.00 246.28 L96.50 246.33 L97.00 246.38 L97.50 246.41 L98.00 246.44 L98.50 246.46 L99.00 246.48 L99.50 246.48 L100.00 246.49 L100.50 246.48 L101.00 246.48 L101.50 246.47 L102.00 246.46 L102.50 246.44 L103.00 246.43 L103.50 246.41 L104.00 246.39 L104.50 246.37 L105.00 246.36 L105.50 246.34 L106.00 246.32 L106.50 246.31 L107.00 246.29 L107.50 246.28 L108.00 246.27 L108.50 246.27 L109.00 246.26 L109.50 246.26 L110.00 246.26 L110.50 246.26 L111.00 246.26 L111.50 246.27 L112.00 246.27 L112.50 246.28 L113.00 246.29 L113.50 246.30 L114.00 246.32 L114.50 246.33 L115.00 246.34 L115.50 246.36 L116.00 246.37 L116.50 246.38 L117.00 246.39 L117.50 246.40 L118.00 246.41 L118.50 246.42 L119.00 246.43 L119.50 246.43 L120.00 246.43 L120.50 246.43 L121.00 246.43 L121.50 246.42 L122.00 246.41 L122.50 246.40 L123.00 246.38 L123.50 246.37 L124.00 246.35 L124.50 246.32 L125.00 246.30 L125.50 246.27 L126.00 246.24 L126.50 246.21 L127.00 246.18 L127.50 246.15 L128.00 246.12 L128.50 246.08 L129.00 246.05 L129.50 246.01 L130.00 245.98 L130.50 245.94 L131.00 245.91 L131.50 245.88 L132.00 245.85 L132.50 245.83 L133.00 245.80 L133.50 245.78 L134.00 245.76 L134.50 245.74 L135.00 245.73 L135.50 245.72 L136.00 245.71 L136.50 245.70 L137.00 245.70 L137.50 245.70 L138.00 245.70 L138.50 245.71 L139.00 245.72 L139.50 245.73 L140.00 245.75 L140.50 245.76 L141.00 245.78 L141.50 245.80 L142.00 245.82 L142.50 245.84 L143.00 245.86 L143.50 245.89 L144.00 245.91 L144.50 245.93 L145.00 245.95 L145.50 245.97 L146.00 245.99 L146.50 246.01 L147.00 246.02 L147.50 246.04 L148.00 246.05 L148.50 246.06 L149.00 246.07 L149.50 246.08 L150.00 246.08 L150.50 246.08 L151.00 246.08 L151.50 246.07 L152.00 246.07 L152.50 246.06 L153.00 246.05 L153.50 246.04 L154.00 246.03 L154.50 246.02 L155.00 246.00 L155.50 245.99 L156.00 245.97 L156.50 245.96 L157.00 245.94 L157.50 245.93 L158.00 245.91 L158.50 245.90 L159.00 245.89 L159.50 245.88 L160.00 245.88 L160.50 245.87 L161.00 245.87 L161.50 245.87 L162.00 245.87 L162.50 245.88 L163.00 245.89 L163.50 245.90 L164.00 245.91 L164.50 245.93 L165.00 245.95 L165.50 245.97 L166.00 246.00 L166.50 246.02 L167.00 246.05 L167.50 246.08 L168.00 246.12 L168.50 246.15 L169.00 246.18 L169.50 246.22 L170.00 246.26 L170.50 246.29 L171.00 246.33 L171.50 246.36 L172.00 246.39 L172.50 246.43 L173.00 246.46 L173.50 246.49 L174.00 246.51 L174.50 246.54 L175.00 246.56 L175.50 246.58 L176.00 246.59 L176.50 246.61 L177.00 246.62 L177.50 246.63 L178.00 246.63 L178.50 246.63 L179.00 246.63 L179.50 246.63 L180.00 246.62 L180.50 246.61 L181.00 246.60 L181.50 246.59 L182.00 246.57 L182.50 246.56 L183.00 246.54 L183.50 246.52 L184.00 246.50 L184.50 246.48 L185.00 246.46 L185.50 246.44 L186.00 246.43 L186.50 246.41 L187.00 246.39 L187.50 246.38 L188.00 246.37 L188.50 246.35 L189.00 246.35 L189.50 246.34 L190.00 246.33 L190.50 246.33 L191.00 246.33 L191.50 246.33 L192.00 246.34 L192.50 246.35 L193.00 246.35 L193.50 246.36 L194.00 246.38 L194.50 246.39 L195.00 246.41 L195.50 246.42 L196.00 246.44 L196.50 246.46 L197.00 246.47 L197.50 246.49 L198.00 246.51 L198.50 246.53 L199.00 246.54 L199.50 246.56 L200.00 246.57 L200.50 246.58 L201.00 246.59 L201.50 246.59 L202.00 246.60 L202.50 246.60 L203.00 246.60 L203.50 246.59 L204.00 246.59 L204.50 246.58 L205.00 246.56 L205.50 246.55 L206.00 246.53 L206.50 246.51 L207.00 246.48 L207.50 246.46 L208.00 246.43 L208.50 246.40 L209.00 246.36 L209.50 246.33 L210.00 246.30 L210.50 246.26 L211.00 246.23 L211.50 246.19 L212.00 246.15 L212.50 246.12 L213.00 246.09 L213.50 246.05 L214.00 246.02 L214.50 245.99 L215.00 245.96 L215.50 245.94 L216.00 245.92 L216.50 245.90 L217.00 245.88 L217.50 245.86 L218.00 245.85 L218.50 245.84 L219.00 245.84 L219.50 245.83 L220.00 245.83 L220.50 245.83 L221.00 245.84 L221.50 245.84 L222.00 245.85 L222.50 245.86 L223.00 245.88 L223.50 245.89 L224.00 245.91 L224.50 245.92 L225.00 245.94 L225.50 245.95 L226.00 245.97 L226.50 245.99 L227.00 246.00 L227.50 246.01 L228.00 246.03 L228.50 246.04 L229.00 246.05 L229.50 246.06 L230.00 246.06 L230.50 246.06 L231.00 246.07 L231.50 246.06 L232.00 246.06 L232.50 246.06 L233.00 246.05 L233.50 246.04 L234.00 246.03 L234.50 246.01 L235.00 246.00 L235.50 245.98 L236.00 245.96 L236.50 245.94 L237.00 245.92 L237.50 245.90 L238.00 245.88 L238.50 245.86 L239.00 245.84 L239.50 245.82 L240.00 245.80 L240.50 245.78 L241.00 245.77 L241.50 245.75 L242.00 245.74 L242.50 245.73 L243.00 245.73 L243.50 245.72 L244.00 245.72 L244.50 245.73 L245.00 245.73 L245.50 245.74 L246.00 245.75 L246.50 245.77 L247.00 245.78 L247.50 245.80 L248.00 245.83 L248.50 245.85 L249.00 245.88 L249.50 245.91 L250.00 245.94 L250.50 245.97 L251.00 246.00 L251.50 246.04 L252.00 246.07 L252.50 246.11 L253.00 246.14 L253.50 246.18 L254.00 246.21 L254.50 246.24 L255.00 246.28 L255.50 246.31 L256.00 246.33 L256.50 246.36 L257.00 246.38 L257.50 246.40 L258.00 246.42 L258.50 246.44 L259.00 246.45 L259.50 246.46 L260.00 246.47 L260.50 246.47 L261.00 246.47 L261.50 246.47 L262.00 246.47 L262.50 246.46 L263.00 246.46 L263.50 246.45 L264.00 246.44 L264.50 246.42 L265.00 246.41 L265.50 246.40 L266.00 246.38 L266.50 246.37 L267.00 246.36 L267.50 246.34 L268.00 246.33 L268.50 246.32 L269.00 246.31 L269.50 246.30 L270.00 246.29 L270.50 246.29 L271.00 246.29 L271.50 246.29 L272.00 246.29 L272.50 246.29 L273.00 246.30 L273.50 246.31 L274.00 246.32 L274.50 246.33 L275.00 246.35 L275.50 246.37 L276.00 246.38 L276.50 246.40 L277.00 246.43 L277.50 246.45 L278.00 246.47 L278.50 246.50 L279.00 246.52 L279.50 246.54 L280.00 246.57 L280.50 246.59 L281.00 246.61 L281.50 246.63 L282.00 246.65 L282.50 246.67 L283.00 246.68 L283.50 246.69 L284.00 246.70 L284.50 246.71 L285.00 246.71 L285.50 246.71 L286.00 246.71 L286.50 246.70 L287.00 246.70 L287.50 246.68 L288.00 246.67 L288.50 246.65 L289.00 246.63 L289.50 246.61 L290.00 246.58 L290.50 246.55 L291.00 246.53 L291.50 246.50 L292.00 246.46 L292.50 246.43 L293.00 246.40 L293.50 246.36 L294.00 246.33 L294.50 246.30 L295.00 246.26 L295.50 246.23 L296.00 246.20 L296.50 246.17 L297.00 246.15 L297.50 246.12 L298.00 246.10 L298.50 246.08 L299.00 246.06 L299.50 246.05 L300.00 246.03 L300.50 246.02 L301.00 246.02 L301.50 246.01 L302.00 246.01 L302.50 246.01 L303.00 246.01 L303.50 246.02 L304.00 246.02 L304.50 246.03 L305.00 246.04 L305.50 246.05 L306.00 246.06 L306.50 246.08 L307.00 246.09 L307.50 246.10 L308.00 246.11 L308.50 246.12 L309.00 246.13 L309.50 246.14 L310.00 246.15 L310.50 246.16 L311.00 246.16 L311.50 246.16 L312.00 246.16 L312.50 246.16 L313.00 246.16 L313.50 246.15 L314.00 246.14 L314.50 246.13 L315.00 246.12 L315.50 246.10 L316.00 246.08 L316.50 246.06 L317.00 246.04 L317.50 246.01 L318.00 245.99 L318.50 245.96 L319.00 245.94 L319.50 245.91 L320.00 245.88 L320.50 245.86 L321.00 245.83 L321.50 245.80 L322.00 245.78 L322.50 245.76 L323.00 245.73 L323.50 245.71 L324.00 245.70 L324.50 245.68 L325.00 245.67 L325.50 245.66 L326.00 245.65 L326.50 245.65 L327.00 245.65 L327.50 245.65 L328.00 245.66 L328.50 245.67 L329.00 245.68 L329.50 245.69 L330.00 245.71 L330.50 245.73 L331.00 245.75 L331.50 245.78 L332.00 245.81 L332.50 245.83 L333.00 245.86 L333.50 245.89 L334.00 245.93 L334.50 245.96 L335.00 245.99 L335.50 246.02 L336.00 246.05 L336.50 246.08 L337.00 246.11 L337.50 246.13 L338.00 246.16 L338.50 246.18 L339.00 246.20 L339.50 246.22 L340.00 246.24 L340.50 246.25 L341.00 246.27 L341.50 246.27 L342.00 246.28 L342.50 246.28 L343.00 246.29 L343.50 246.29 L344.00 246.28 L344.50 246.28 L345.00 246.27 L345.50 246.26" fill="none" stroke="#58a858" stroke-width="1.2" stroke-linejoin="round"/>
<path d="M45.50 245.66 L46.00 245.67 L46.50 245.68 L47.00 245.69 L47.50 245.71 L48.00 245.73 L48.50 245.75 L49.00 245.77 L49.50 245.79 L50.00 245.82 L50.50 245.85 L51.00 245.88 L51.50 245.91 L52.00 245.94 L52.50 245.98 L53.00 246.01 L53.50 246.04 L54.00 246.07 L54.50 246.10 L55.00 246.13 L55.50 246.16 L56.00 246.19 L56.50 246.21 L57.00 246.24 L57.50 246.26 L58.00 246.27 L58.50 246.29 L59.00 246.30 L59.50 246.31 L60.00 246.32 L60.50 246.32 L61.00 246.32 L61.50 246.32 L62.00 246.31 L62.50 246.29 L63.00 246.27 L63.50 246.24 L64.00 246.19 L64.50 246.12 L65.00 246.02 L65.50 245.89 L66.00 245.70 L66.50 245.43 L67.00 245.06 L67.50 244.56 L68.00 243.88 L68.50 242.97 L69.00 241.77 L69.50 240.21 L70.00 238.22 L70.50 235.69 L71.00 232.55 L71.50 228.69 L72.00 224.04 L72.50 218.50 L73.00 212.02 L73.50 204.57 L74.00 196.13 L74.50 186.76 L75.00 176.54 L75.50 165.61 L76.00 154.15 L76.50 142.42 L77.00 130.69 L77.50 119.28 L78.00 108.53 L78.50 98.80 L79.00 90.39 L79.50 83.63 L80.00 78.75 L80.50 75.93 L81.00 75.29 L81.50 76.75 L82.00 80.20 L82.50 85.51 L83.00 92.50 L83.50 100.93 L84.00 110.52 L84.50 120.96 L85.00 131.95 L85.50 143.18 L86.00 154.37 L86.50 165.27 L87.00 175.66 L87.50 185.39 L88.00 194.33 L88.50 202.40 L89.00 209.57 L89.50 215.85 L90.00 221.26 L90.50 225.86 L91.00 229.71 L91.50 232.90 L92.00 235.50 L92.50 237.61 L93.00 239.30 L93.50 240.63 L94.00 241.69 L94.50 242.51 L95.00 243.16 L95.50 243.66 L96.00 244.06 L96.50 244.37 L97.00 244.62 L97.50 244.82 L98.00 244.98 L98.50 245.12 L99.00 245.24 L99.50 245.34 L100.00 245.43 L100.50 245.51 L101.00 245.58 L101.50 245.65 L102.00 245.71 L102.50 245.77 L103.00 245.82 L103.50 245.87 L104.00 245.91 L104.50 245.96 L105.00 246.00 L105.50 246.03 L106.00 246.07 L106.50 246.10 L107.00 246.13 L107.50 246.16 L108.00 246.18 L108.50 246.20 L109.00 246.22 L109.50 246.24 L110.00 246.25 L110.50 246.26 L111.00 246.27 L111.50 246.27 L112.00 246.28 L112.50 246.28 L113.00 246.27 L113.50 246.26 L114.00 246.25 L114.50 246.24 L115.00 246.23 L115.50 246.21 L116.00 246.19 L116.50 246.16 L117.00 246.14 L117.50 246.11 L118.00 246.08 L118.50 246.05 L119.00 246.02 L119.50 245.99 L120.00 245.96 L120.50 245.93 L121.00 245.90 L121.50 245.87 L122.00 245.84 L122.50 245.81 L123.00 245.78 L123.50 245.76 L124.00 245.73 L124.50 245.71 L125.00 245.70 L125.50 245.68 L126.00 245.67 L126.50 245.66 L127.00 245.65 L127.50 245.65 L128.00 245.65 L128.50 245.66 L129.00 245.66 L129.50 245.67 L130.00 245.68 L130.50 245.70 L131.00 245.72 L131.50 245.74 L132.00 245.76 L132.50 245.78 L133.00 245.80 L133.50 245.83 L134.00 245.86 L134.50 245.88 L135.00 245.91 L135.50 245.94 L136.00 245.96 L136.50 245.99 L137.00 246.01 L137.50 246.04 L138.00 246.06 L138.50 246.08 L139.00 246.10 L139.50 246.11 L140.00 246.13 L140.50 246.14 L141.00 246.15 L141.50 246.15 L142.00 246.16 L142.50 246.16 L143.00 246.16 L143.50 246.15 L144.00 246.15 L144.50 246.14 L145.00 246.13 L145.50 246.12 L146.00 246.11 L146.50 246.10 L147.00 246.09 L147.50 246.08 L148.00 246.07 L148.50 246.05 L149.00 246.04 L149.50 246.03 L150.00 246.02 L150.50 246.01 L151.00 246.01 L151.50 246.00 L152.00 246.00 L152.50 246.00 L153.00 246.00 L153.50 246.01 L154.00 246.01 L154.50 246.02 L155.00 246.04 L155.50 246.05 L156.00 246.07 L156.50 246.09 L157.00 246.12 L157.50 246.14 L158.00 246.17 L158.50 246.20 L159.00 246.23 L159.50 246.26 L160.00 246.29 L160.50 246.32 L161.00 246.36 L161.50 246.39 L162.00 246.43 L162.50 246.46 L163.00 246.49 L163.50 246.52 L164.00 246.55 L164.50 246.58 L165.00 246.60 L165.50 246.63 L166.00 246.65 L166.50 246.66 L167.00 246.68 L167.50 246.69 L168.00 246.70 L168.50 246.71 L169.00 246.71 L169.50 246.71 L170.00 246.70 L170.50 246.70 L171.00 246.69 L171.50 246.68 L172.00 246.66 L172.50 246.65 L173.00 246.63 L173.50 246.61 L174.00 246.59 L174.50 246.57 L175.00 246.54 L175.50 246.52 L176.00 246.49 L176.50 246.47 L177.00 246.45 L177.50 246.43 L178.00 246.40 L178.50 246.38 L179.00 246.37 L179.50 246.35 L180.00 246.33 L180.50 246.32 L181.00 246.31 L181.50 246.30 L182.00 246.30 L182.50 246.29 L183.00 246.29 L183.50 246.29 L184.00 246.30 L184.50 246.30 L185.00 246.31 L185.50 246.32 L186.00 246.33 L186.50 246.34 L187.00 246.35 L187.50 246.37 L188.00 246.38 L188.50 246.39 L189.00 246.41 L189.50 246.42 L190.00 246.43 L190.50 246.45 L191.00 246.46 L191.50 246.47 L192.00 246.47 L192.50 246.48 L193.00 246.48 L193.50 246.48 L194.00 246.48 L194.50 246.48 L195.00 246.47 L195.50 246.46 L196.00 246.44 L196.50 246.43 L197.00 246.41 L197.50 246.39 L198.00 246.37 L198.50 246.34 L199.00 246.31 L199.50 246.28 L200.00 246.25 L200.50 246.22 L201.00 246.18 L201.50 246.15 L202.00 246.11 L202.50 246.08 L203.00 246.04 L203.50 246.01 L204.00 245.98 L204.50 245.94 L205.00 245.91 L205.50 245.88 L206.00 245.86 L206.50 245.83 L207.00 245.81 L207.50 245.79 L208.00 245.77 L208.50 245.76 L209.00 245.75 L209.50 245.74 L210.00 245.73 L210.50 245.73 L211.00 245.73 L211.50 245.73 L212.00 245.74 L212.50 245.75 L213.00 245.76 L213.50 245.77 L214.00 245.79 L214.50 245.81 L215.00 245.82 L215.50 245.84 L216.00 245.86 L216.50 245.88 L217.00 245.90 L217.50 245.92 L218.00 245.94 L218.50 245.96 L219.00 245.98 L219.50 246.00 L220.00 246.01 L220.50 246.03 L221.00 246.04 L221.50 246.05 L222.00 246.06 L222.50 246.06 L223.00 246.06 L223.50 246.06 L224.00 246.06 L224.50 246.06 L225.00 246.05 L225.50 246.04 L226.00 246.03 L226.50 246.02 L227.00 246.01 L227.50 245.99 L228.00 245.98 L228.50 245.96 L229.00 245.95 L229.50 245.93 L230.00 245.91 L230.50 245.90 L231.00 245.88 L231.50 245.87 L232.00 245.86 L232.50 245.84 L233.00 245.84 L233.50 245.83 L234.00 245.82 L234.50 245.82 L235.00 245.82 L235.50 245.83 L236.00 245.83 L236.50 245.84 L237.00 245.85 L237.50 245.87 L238.00 245.89 L238.50 245.91 L239.00 245.93 L239.50 245.96 L240.00 245.98 L240.50 246.01 L241.00 246.05 L241.50 246.08 L242.00 246.11 L242.50 246.15 L243.00 246.18 L243.50 246.22 L244.00 246.26 L244.50 246.29 L245.00 246.33 L245.50 246.36 L246.00 246.39 L246.50 246.42 L247.00 246.45 L247.50 246.48 L248.00 246.50 L248.50 246.52 L249.00 246.54 L249.50 246.56 L250.00 246.57 L250.50 246.58 L251.00 246.59 L251.50 246.59 L252.00 246.59 L252.50 246.59 L253.00 246.59 L253.50 246.58 L254.00 246.57 L254.50 246.56 L255.00 246.55 L255.50 246.53 L256.00 246.52 L256.50 246.50 L257.00 246.49 L257.50 246.47 L258.00 246.45 L258.50 246.43 L259.00 246.42 L259.50 246.40 L260.00 246.39 L260.50 246.37 L261.00 246.36 L261.50 246.35 L262.00 246.34 L262.50 246.34 L263.00 246.33 L263.50 246.33 L264.00 246.33 L264.50 246.33 L265.00 246.34 L265.50 246.35 L266.00 246.36 L266.50 246.37 L267.00 246.38 L267.50 246.40 L268.00 246.41 L268.50 246.43 L269.00 246.45 L269.50 246.47 L270.00 246.49 L270.50 246.51 L271.00 246.53 L271.50 246.54 L272.00 246.56 L272.50 246.58 L273.00 246.59 L273.50 246.61 L274.00 246.62 L274.50 246.63 L275.00 246.63 L275.50 246.64 L276.00 246.64 L276.50 246.64 L277.00 246.63 L277.50 246.63 L278.00 246.61 L278.50 246.60 L279.00 246.58 L279.50 246.57 L280.00 246.54 L280.50 246.52 L281.00 246.49 L281.50 246.46 L282.00 246.43 L282.50 246.40 L283.00 246.37 L283.50 246.33 L284.00 246.30 L284.50 246.26 L285.00 246.23 L285.50 246.19 L286.00 246.16 L286.50 246.12 L287.00 246.09 L287.50 246.06 L288.00 246.03 L288.50 246.00 L289.00 245.98 L289.50 245.96 L290.00 245.94 L290.50 245.92 L291.00 245.91 L291.50 245.90 L292.00 245.89 L292.50 245.88 L293.00 245.88 L293.50 245.88 L294.00 245.88 L294.50 245.89 L295.00 245.89 L295.50 245.90 L296.00 245.91 L296.50 245.92 L297.00 245.94 L297.50 245.95 L298.00 245.97 L298.50 245.98 L299.00 246.00 L299.50 246.01 L300.00 246.02 L300.50 246.04 L301.00 246.05 L301.50 246.06 L302.00 246.07 L302.50 246.07 L303.00 246.08 L303.50 246.08 L304.00 246.08 L304.50 246.08 L305.00 246.08 L305.50 246.07 L306.00 246.06 L306.50 246.05 L307.00 246.04 L307.50 246.02 L308.00 246.01 L308.50 245.99 L309.00 245.97 L309.50 245.95 L310.00 245.93 L310.50 245.90 L311.00 245.88 L311.50 245.86 L312.00 245.84 L312.50 245.82 L313.00 245.79 L313.50 245.78 L314.00 245.76 L314.50 245.74 L315.00 245.73 L315.50 245.72 L316.00 245.71 L316.50 245.70 L317.00 245.70 L317.50 245.69 L318.00 245.70 L318.50 245.70 L319.00 245.71 L319.50 245.72 L320.00 245.74 L320.50 245.75 L321.00 245.77 L321.50 245.80 L322.00 245.82 L322.50 245.85 L323.00 245.88 L323.50 245.91 L324.00 245.94 L324.50 245.97 L325.00 246.01 L325.50 246.04 L326.00 246.08 L326.50 246.11 L327.00 246.14 L327.50 246.18 L328.00 246.21 L328.50 246.24 L329.00 246.27 L329.50 246.29 L330.00 246.32 L330.50 246.34 L331.00 246.36 L331.50 246.38 L332.00 246.39 L332.50 246.40 L333.00 246.41 L333.50 246.42 L334.00 246.42 L334.50 246.42 L335.00 246.42 L335.50 246.41 L336.00 246.41 L336.50 246.40 L337.00 246.39 L337.50 246.38 L338.00 246.37 L338.50 246.36 L339.00 246.35 L339.50 246.33 L340.00 246.32 L340.50 246.31 L341.00 246.30 L341.50 246.28 L342.00 246.27 L342.50 246.27 L343.00 246.26 L343.50 246.26 L344.00 246.25 L344.50 246.25 L345.00 246.26 L345.50 246.26" fill="none" stroke="#d264e0" stroke-width="1.2" stroke-linejoin="round"/>
<path d="M45.50 246.21 L46.00 246.24 L46.50 246.27 L47.00 246.30 L47.50 246.33 L48.00 246.35 L48.50 246.37 L49.00 246.39 L49.50 246.41 L50.00 246.43 L50.50 246.44 L51.00 246.45 L51.50 246.45 L52.00 246.46 L52.50 246.46 L53.00 246.46 L53.50 246.46 L54.00 246.45 L54.50 246.44 L55.00 246.43 L55.50 246.42 L56.00 246.41 L56.50 246.40 L57.00 246.38 L57.50 246.37 L58.00 246.36 L58.50 246.34 L59.00 246.33 L59.50 246.32 L60.00 246.31 L60.50 246.30 L61.00 246.29 L61.50 246.28 L62.00 246.28 L62.50 246.28 L63.00 246.28 L63.50 246.28 L64.00 246.29 L64.50 246.29 L65.00 246.30 L65.50 246.32 L66.00 246.33 L66.50 246.35 L67.00 246.36 L67.50 246.38 L68.00 246.40 L68.50 246.43 L69.00 246.45 L69.50 246.47 L70.00 246.50 L70.50 246.52 L71.00 246.54 L71.50 246.57 L72.00 246.59 L72.50 246.61 L73.00 246.63 L73.50 246.65 L74.00 246.66 L74.50 246.67 L75.00 246.68 L75.50 246.69 L76.00 246.69 L76.50 246.69 L77.00 246.69 L77.50 246.69 L78.00 246.68 L78.50 246.66 L79.00 246.65 L79.50 246.63 L80.00 246.60 L80.50 246.58 L81.00 246.55 L81.50 246.52 L82.00 246.48 L82.50 246.44 L83.00 246.41 L83.50 246.36 L84.00 246.32 L84.50 246.28 L85.00 246.23 L85.50 246.18 L86.00 246.13 L86.50 246.08 L87.00 246.03 L87.50 245.99 L88.00 245.94 L88.50 245.89 L89.00 245.84 L89.50 245.79 L90.00 245.74 L90.50 245.69 L91.00 245.64 L91.50 245.58 L92.00 245.53 L92.50 245.48 L93.00 245.43 L93.50 245.38 L94.00 245.32 L94.50 245.26 L95.00 245.20 L95.50 245.14 L96.00 245.07 L96.50 245.00 L97.00 244.92 L97.50 244.84 L98.00 244.75 L98.50 244.66 L99.00 244.55 L99.50 244.44 L100.00 244.32 L100.50 244.19 L101.00 244.05 L101.50 243.89 L102.00 243.72 L102.50 243.54 L103.00 243.34 L103.50 243.13 L104.00 242.89 L104.50 242.64 L105.00 242.36 L105.50 242.07 L106.00 241.75 L106.50 241.40 L107.00 241.04 L107.50 240.64 L108.00 240.22 L108.50 239.78 L109.00 239.31 L109.50 238.82 L110.00 238.30 L110.50 237.76 L111.00 237.21 L111.50 236.63 L112.00 236.04 L112.50 235.45 L113.00 234.84 L113.50 234.23 L114.00 233.61 L114.50 233.00 L115.00 232.38 L115.50 231.77 L116.00 231.17 L116.50 230.57 L117.00 229.98 L117.50 229.39 L118.00 228.80 L118.50 228.22 L119.00 227.63 L119.50 227.04 L120.00 226.44 L120.50 225.82 L121.00 225.20 L121.50 224.55 L122.00 223.88 L122.50 223.18 L123.00 222.44 L123.50 221.67 L124.00 220.85 L124.50 219.97 L125.00 219.04 L125.50 218.04 L126.00 216.96 L126.50 215.79 L127.00 214.52 L127.50 213.14 L128.00 211.62 L128.50 209.95 L129.00 208.12 L129.50 206.10 L130.00 203.87 L130.50 201.41 L131.00 198.71 L131.50 195.73 L132.00 192.47 L132.50 188.91 L133.00 185.03 L133.50 180.83 L134.00 176.30 L134.50 171.44 L135.00 166.28 L135.50 160.81 L136.00 155.08 L136.50 149.11 L137.00 142.95 L137.50 136.65 L138.00 130.27 L138.50 123.88 L139.00 117.56 L139.50 111.37 L140.00 105.41 L140.50 99.76 L141.00 94.51 L141.50 89.74 L142.00 85.51 L142.50 81.92 L143.00 79.00 L143.50 76.83 L144.00 75.42 L144.50 74.82 L145.00 75.08 L145.50 76.33 L146.00 78.56 L146.50 81.71 L147.00 85.72 L147.50 90.51 L148.00 95.99 L148.50 102.06 L149.00 108.61 L149.50 115.53 L150.00 122.71 L150.50 130.03 L151.00 137.40 L151.50 144.73 L152.00 151.93 L152.50 158.93 L153.00 165.67 L153.50 172.10 L154.00 178.19 L154.50 183.92 L155.00 189.28 L155.50 194.25 L156.00 198.85 L156.50 203.07 L157.00 206.95 L157.50 210.49 L158.00 213.73 L158.50 216.67 L159.00 219.35 L159.50 221.78 L160.00 224.00 L160.50 226.01 L161.00 227.85 L161.50 229.52 L162.00 231.05 L162.50 232.44 L163.00 233.71 L163.50 234.88 L164.00 235.94 L164.50 236.92 L165.00 237.81 L165.50 238.63 L166.00 239.37 L166.50 240.05 L167.00 240.67 L167.50 241.24 L168.00 241.75 L168.50 242.22 L169.00 242.65 L169.50 243.03 L170.00 243.38 L170.50 243.69 L171.00 243.97 L171.50 244.22 L172.00 244.45 L172.50 244.66 L173.00 244.84 L173.50 245.00 L174.00 245.15 L174.50 245.29 L175.00 245.40 L175.50 245.51 L176.00 245.61 L176.50 245.70 L177.00 245.77 L177.50 245.84 L178.00 245.91 L178.50 245.97 L179.00 246.02 L179.50 246.07 L180.00 246.11 L180.50 246.15 L181.00 246.18 L181.50 246.21 L182.00 246.24 L182.50 246.26 L183.00 246.28 L183.50 246.29 L184.00 246.31 L184.50 246.31 L185.00 246.32 L185.50 246.32 L186.00 246.32 L186.50 246.31 L187.00 246.31 L187.50 246.29 L188.00 246.28 L188.50 246.26 L189.00 246.24 L189.50 246.22 L190.00 246.20 L190.50 246.17 L191.00 246.14 L191.50 246.11 L192.00 246.08 L192.50 246.05 L193.00 246.01 L193.50 245.98 L194.00 245.95 L194.50 245.92 L195.00 245.89 L195.50 245.86 L196.00 245.83 L196.50 245.80 L197.00 245.77 L197.50 245.75 L198.00 245.73 L198.50 245.71 L199.00 245.70 L199.50 245.68 L200.00 245.67 L200.50 245.67 L201.00 245.67 L201.50 245.67 L202.00 245.67 L202.50 245.67 L203.00 245.68 L203.50 245.70 L204.00 245.71 L204.50 245.73 L205.00 245.74 L205.50 245.77 L206.00 245.79 L206.50 245.81 L207.00 245.83 L207.50 245.86 L208.00 245.88 L208.50 245.91 L209.00 245.93 L209.50 245.96 L210.00 245.98 L210.50 246.00 L211.00 246.02 L211.50 246.04 L212.00 246.06 L212.50 246.08 L213.00 246.09 L213.50 246.10 L214.00 246.11 L214.50 246.12 L215.00 246.12 L215.50 246.12 L216.00 246.12 L216.50 246.12 L217.00 246.11 L217.50 246.11 L218.00 246.10 L218.50 246.09 L219.00 246.08 L219.50 246.06 L220.00 246.05 L220.50 246.04 L221.00 246.02 L221.50 246.01 L222.00 246.00 L222.50 245.99 L223.00 245.98 L223.50 245.97 L224.00 245.96 L224.50 245.95 L225.00 245.95 L225.50 245.95 L226.00 245.95 L226.50 245.95 L227.00 245.96 L227.50 245.97 L228.00 245.98 L228.50 245.99 L229.00 246.01 L229.50 246.03 L230.00 246.05 L230.50 246.07 L231.00 246.10 L231.50 246.13 L232.00 246.16 L232.50 246.19 L233.00 246.23 L233.50 246.26 L234.00 246.29 L234.50 246.33 L235.00 246.36 L235.50 246.40 L236.00 246.43 L236.50 246.46 L237.00 246.49 L237.50 246.52 L238.00 246.55 L238.50 246.58 L239.00 246.60 L239.50 246.62 L240.00 246.64 L240.50 246.65 L241.00 246.67 L241.50 246.67 L242.00 246.68 L242.50 246.68 L243.00 246.68 L243.50 246.68 L244.00 246.67 L244.50 246.66 L245.00 246.65 L245.50 246.64 L246.00 246.62 L246.50 246.61 L247.00 246.59 L247.50 246.57 L248.00 246.55 L248.50 246.53 L249.00 246.50 L249.50 246.48 L250.00 246.46 L250.50 246.44 L251.00 246.42 L251.50 246.40 L252.00 246.38 L252.50 246.37 L253.00 246.35 L253.50 246.34 L254.00 246.33 L254.50 246.32 L255.00 246.32 L255.50 246.32 L256.00 246.31 L256.50 246.32 L257.00 246.32 L257.50 246.33 L258.00 246.33 L258.50 246.34 L259.00 246.35 L259.50 246.37 L260.00 246.38 L260.50 246.39 L261.00 246.41 L261.50 246.43 L262.00 246.44 L262.50 246.46 L263.00 246.47 L263.50 246.48 L264.00 246.50 L264.50 246.51 L265.00 246.52 L265.50 246.52 L266.00 246.53 L266.50 246.53 L267.00 246.53 L267.50 246.53 L268.00 246.52 L268.50 246.51 L269.00 246.50 L269.50 246.49 L270.00 246.47 L270.50 246.45 L271.00 246.43 L271.50 246.41 L272.00 246.38 L272.50 246.35 L273.00 246.32 L273.50 246.29 L274.00 246.25 L274.50 246.22 L275.00 246.18 L275.50 246.15 L276.00 246.11 L276.50 246.08 L277.00 246.04 L277.50 246.01 L278.00 245.98 L278.50 245.95 L279.00 245.92 L279.50 245.89 L280.00 245.87 L280.50 245.84 L281.00 245.82 L281.50 245.81 L282.00 245.79 L282.50 245.78 L283.00 245.77 L283.50 245.77 L284.00 245.77 L284.50 245.77 L285.00 245.77 L285.50 245.78 L286.00 245.79 L286.50 245.80 L287.00 245.81 L287.50 245.82 L288.00 245.84 L288.50 245.86 L289.00 245.87 L289.50 245.89 L290.00 245.91 L290.50 245.93 L291.00 245.95 L291.50 245.97 L292.00 245.98 L292.50 246.00 L293.00 246.01 L293.50 246.02 L294.00 246.04 L294.50 246.04 L295.00 246.05 L295.50 246.05 L296.00 246.06 L296.50 246.06 L297.00 246.05 L297.50 246.05 L298.00 246.04 L298.50 246.03 L299.00 246.02 L299.50 246.01 L300.00 246.00 L300.50 245.98 L301.00 245.96 L301.50 245.95 L302.00 245.93 L302.50 245.91 L303.00 245.89 L303.50 245.87 L304.00 245.86 L304.50 245.84 L305.00 245.83 L305.50 245.81 L306.00 245.80 L306.50 245.79 L307.00 245.79 L307.50 245.78 L308.00 245.78 L308.50 245.78 L309.00 245.78 L309.50 245.79 L310.00 245.80 L310.50 245.81 L311.00 245.83 L311.50 245.85 L312.00 245.87 L312.50 245.89 L313.00 245.92 L313.50 245.95 L314.00 245.98 L314.50 246.01 L315.00 246.04 L315.50 246.08 L316.00 246.11 L316.50 246.15 L317.00 246.18 L317.50 246.22 L318.00 246.25 L318.50 246.29 L319.00 246.32 L319.50 246.35 L320.00 246.38 L320.50 246.41 L321.00 246.44 L321.50 246.46 L322.00 246.48 L322.50 246.50 L323.00 246.51 L323.50 246.53 L324.00 246.54 L324.50 246.54 L325.00 246.55 L325.50 246.55 L326.00 246.55 L326.50 246.54 L327.00 246.54 L327.50 246.53 L328.00 246.52 L328.50 246.50 L329.00 246.49 L329.50 246.48 L330.00 246.46 L330.50 246.45 L331.00 246.43 L331.50 246.41 L332.00 246.40 L332.50 246.38 L333.00 246.37 L333.50 246.36 L334.00 246.35 L334.50 246.34 L335.00 246.33 L335.50 246.32 L336.00 246.32 L336.50 246.32 L337.00 246.32 L337.50 246.32 L338.00 246.33 L338.50 246.34 L339.00 246.35 L339.50 246.36 L340.00 246.38 L340.50 246.39 L341.00 246.41 L341.50 246.43 L342.00 246.45 L342.50 246.47 L343.00 246.49 L343.50 246.51 L344.00 246.53 L344.50 246.55 L345.00 246.57 L345.50 246.59" fill="none" stroke="#4646ae" stroke-width="1.2" stroke-linejoin="round"/>
<path d="M45.50 246.56 L46.00 246.55 L46.50 246.54 L47.00 246.52 L47.50 246.51 L48.00 246.49 L48.50 246.47 L49.00 246.46 L49.50 246.44 L50.00 246.42 L50.50 246.41 L51.00 246.39 L51.50 246.38 L52.00 246.37 L52.50 246.35 L53.00 246.35 L53.50 246.34 L54.00 246.33 L54.50 246.33 L55.00 246.33 L55.50 246.33 L56.00 246.33 L56.50 246.34 L57.00 246.35 L57.50 246.36 L58.00 246.37 L58.50 246.39 L59.00 246.40 L59.50 246.42 L60.00 246.44 L60.50 246.46 L61.00 246.48 L61.50 246.50 L62.00 246.52 L62.50 246.54 L63.00 246.55 L63.50 246.57 L64.00 246.59 L64.50 246.60 L65.00 246.62 L65.50 246.63 L66.00 246.64 L66.50 246.64 L67.00 246.65 L67.50 246.65 L68.00 246.65 L68.50 246.64 L69.00 246.63 L69.50 246.62 L70.00 246.61 L70.50 246.59 L71.00 246.57 L71.50 246.55 L72.00 246.52 L72.50 246.50 L73.00 246.47 L73.50 246.44 L74.00 246.40 L74.50 246.37 L75.00 246.34 L75.50 246.30 L76.00 246.27 L76.50 246.23 L77.00 246.20 L77.50 246.16 L78.00 246.13 L78.50 246.10 L79.00 246.07 L79.50 246.04 L80.00 246.01 L80.50 245.99 L81.00 245.97 L81.50 245.95 L82.00 245.93 L82.50 245.92 L83.00 245.91 L83.50 245.90 L84.00 245.89 L84.50 245.89 L85.00 245.89 L85.50 245.89 L86.00 245.90 L86.50 245.91 L87.00 245.91 L87.50 245.92 L88.00 245.94 L88.50 245.95 L89.00 245.96 L89.50 245.98 L90.00 245.99 L90.50 246.01 L91.00 246.02 L91.50 246.03 L92.00 246.05 L92.50 246.06 L93.00 246.07 L93.50 246.07 L94.00 246.08 L94.50 246.08 L95.00 246.08 L95.50 246.08 L96.00 246.08 L96.50 246.07 L97.00 246.06 L97.50 246.05 L98.00 246.04 L98.50 246.02 L99.00 246.00 L99.50 245.98 L100.00 245.96 L100.50 245.94 L101.00 245.91 L101.50 245.89 L102.00 245.86 L102.50 245.83 L103.00 245.80 L103.50 245.77 L104.00 245.74 L104.50 245.71 L105.00 245.68 L105.50 245.65 L106.00 245.62 L106.50 245.60 L107.00 245.57 L107.50 245.54 L108.00 245.52 L108.50 245.49 L109.00 245.47 L109.50 245.45 L110.00 245.42 L110.50 245.40 L111.00 245.38 L111.50 245.36 L112.00 245.33 L112.50 245.31 L113.00 245.28 L113.50 245.25 L114.00 245.22 L114.50 245.19 L115.00 245.15 L115.50 245.11 L116.00 245.06 L116.50 245.00 L117.00 244.94 L117.50 244.88 L118.00 244.80 L118.50 244.71 L119.00 244.62 L119.50 244.52 L120.00 244.40 L120.50 244.27 L121.00 244.13 L121.50 243.98 L122.00 243.81 L122.50 243.63 L123.00 243.44 L123.50 243.23 L124.00 243.01 L124.50 242.77 L125.00 242.51 L125.50 242.24 L126.00 241.95 L126.50 241.64 L127.00 241.32 L127.50 240.98 L128.00 240.62 L128.50 240.25 L129.00 239.85 L129.50 239.44 L130.00 239.00 L130.50 238.53 L131.00 238.04 L131.50 237.52 L132.00 236.96 L132.50 236.35 L133.00 235.69 L133.50 234.97 L134.00 234.17 L134.50 233.27 L135.00 232.26 L135.50 231.11 L136.00 229.79 L136.50 228.29 L137.00 226.55 L137.50 224.56 L138.00 222.26 L138.50 219.63 L139.00 216.61 L139.50 213.18 L140.00 209.29 L140.50 204.92 L141.00 200.03 L141.50 194.62 L142.00 188.68 L142.50 182.22 L143.00 175.27 L143.50 167.86 L144.00 160.06 L144.50 151.95 L145.00 143.62 L145.50 135.19 L146.00 126.78 L146.50 118.54 L147.00 110.62 L147.50 103.16 L148.00 96.32 L148.50 90.25 L149.00 85.08 L149.50 80.92 L150.00 77.88 L150.50 76.02 L151.00 75.39 L151.50 75.61 L152.00 76.27 L152.50 77.37 L153.00 78.88 L153.50 80.78 L154.00 83.04 L154.50 85.63 L155.00 88.52 L155.50 91.67 L156.00 95.04 L156.50 98.61 L157.00 102.34 L157.50 106.20 L158.00 110.17 L158.50 114.22 L159.00 118.34 L159.50 122.51 L160.00 126.72 L160.50 130.95 L161.00 135.19 L161.50 139.43 L162.00 143.67 L162.50 147.88 L163.00 152.08 L163.50 156.23 L164.00 160.35 L164.50 164.41 L165.00 168.42 L165.50 172.35 L166.00 176.21 L166.50 179.99 L167.00 183.67 L167.50 187.26 L168.00 190.74 L168.50 194.11 L169.00 197.36 L169.50 200.50 L170.00 203.51 L170.50 206.40 L171.00 209.16 L171.50 211.80 L172.00 214.30 L172.50 216.68 L173.00 218.93 L173.50 221.06 L174.00 223.06 L174.50 224.94 L175.00 226.70 L175.50 228.35 L176.00 229.89 L176.50 231.32 L177.00 232.65 L177.50 233.88 L178.00 235.01 L178.50 236.05 L179.00 237.01 L179.50 237.89 L180.00 238.70 L180.50 239.43 L181.00 240.09 L181.50 240.69 L182.00 241.24 L182.50 241.73 L183.00 242.17 L183.50 242.56 L184.00 242.92 L184.50 243.23 L185.00 243.51 L185.50 243.76 L186.00 243.98 L186.50 244.18 L187.00 244.35 L187.50 244.50 L188.00 244.63 L188.50 244.75 L189.00 244.86 L189.50 244.95 L190.00 245.03 L190.50 245.11 L191.00 245.17 L191.50 245.24 L192.00 245.29 L192.50 245.34 L193.00 245.39 L193.50 245.44 L194.00 245.48 L194.50 245.52 L195.00 245.57 L195.50 245.61 L196.00 245.65 L196.50 245.69 L197.00 245.72 L197.50 245.76 L198.00 245.80 L198.50 245.84 L199.00 245.87 L199.50 245.91 L200.00 245.94 L200.50 245.98 L201.00 246.01 L201.50 246.04 L202.00 246.07 L202.50 246.09 L203.00 246.12 L203.50 246.14 L204.00 246.16 L204.50 246.18 L205.00 246.19 L205.50 246.20 L206.00 246.21 L206.50 246.22 L207.00 246.22 L207.50 246.22 L208.00 246.22 L208.50 246.22 L209.00 246.21 L209.50 246.21 L210.00 246.20 L210.50 246.19 L211.00 246.18 L211.50 246.17 L212.00 246.16 L212.50 246.15 L213.00 246.13 L213.50 246.12 L214.00 246.11 L214.50 246.10 L215.00 246.10 L215.50 246.09 L216.00 246.08 L216.50 246.08 L217.00 246.08 L217.50 246.08 L218.00 246.09 L218.50 246.09 L219.00 246.10 L219.50 246.11 L220.00 246.13 L220.50 246.15 L221.00 246.17 L221.50 246.19 L222.00 246.21 L222.50 246.24 L223.00 246.26 L223.50 246.29 L224.00 246.32 L224.50 246.35 L225.00 246.39 L225.50 246.42 L226.00 246.45 L226.50 246.48 L227.00 246.51 L227.50 246.54 L228.00 246.57 L228.50 246.60 L229.00 246.62 L229.50 246.65 L230.00 246.67 L230.50 246.69 L231.00 246.70 L231.50 246.71 L232.00 246.72 L232.50 246.73 L233.00 246.73 L233.50 246.73 L234.00 246.73 L234.50 246.73 L235.00 246.72 L235.50 246.71 L236.00 246.69 L236.50 246.68 L237.00 246.66 L237.50 246.64 L238.00 246.61 L238.50 246.59 L239.00 246.56 L239.50 246.54 L240.00 246.51 L240.50 246.49 L241.00 246.46 L241.50 246.43 L242.00 246.41 L242.50 246.38 L243.00 246.36 L243.50 246.34 L244.00 246.32 L244.50 246.30 L245.00 246.29 L245.50 246.27 L246.00 246.26 L246.50 246.25 L247.00 246.25 L247.50 246.24 L248.00 246.24 L248.50 246.24 L249.00 246.24 L249.50 246.25 L250.00 246.26 L250.50 246.26 L251.00 246.27 L251.50 246.29 L252.00 246.30 L252.50 246.31 L253.00 246.32 L253.50 246.33 L254.00 246.35 L254.50 246.36 L255.00 246.37 L255.50 246.38 L256.00 246.39 L256.50 246.39 L257.00 246.40 L257.50 246.40 L258.00 246.40 L258.50 246.40 L259.00 246.40 L259.50 246.39 L260.00 246.38 L260.50 246.37 L261.00 246.35 L261.50 246.33 L262.00 246.31 L262.50 246.29 L263.00 246.26 L263.50 246.24 L264.00 246.21 L264.50 246.18 L265.00 246.14 L265.50 246.11 L266.00 246.08 L266.50 246.04 L267.00 246.01 L267.50 245.98 L268.00 245.94 L268.50 245.91 L269.00 245.88 L269.50 245.85 L270.00 245.82 L270.50 245.80 L271.00 245.77 L271.50 245.75 L272.00 245.73 L272.50 245.72 L273.00 245.71 L273.50 245.70 L274.00 245.69 L274.50 245.69 L275.00 245.69 L275.50 245.69 L276.00 245.69 L276.50 245.70 L277.00 245.71 L277.50 245.73 L278.00 245.74 L278.50 245.76 L279.00 245.78 L279.50 245.80 L280.00 245.82 L280.50 245.85 L281.00 245.87 L281.50 245.89 L282.00 245.92 L282.50 245.94 L283.00 245.96 L283.50 245.98 L284.00 246.00 L284.50 246.02 L285.00 246.04 L285.50 246.05 L286.00 246.06 L286.50 246.07 L287.00 246.08 L287.50 246.09 L288.00 246.09 L288.50 246.09 L289.00 246.09 L289.50 246.09 L290.00 246.08 L290.50 246.07 L291.00 246.06 L291.50 246.05 L292.00 246.04 L292.50 246.03 L293.00 246.02 L293.50 246.00 L294.00 245.99 L294.50 245.97 L295.00 245.96 L295.50 245.95 L296.00 245.93 L296.50 245.92 L297.00 245.91 L297.50 245.91 L298.00 245.90 L298.50 245.90 L299.00 245.90 L299.50 245.90 L300.00 245.90 L300.50 245.91 L301.00 245.92 L301.50 245.93 L302.00 245.95 L302.50 245.96 L303.00 245.99 L303.50 246.01 L304.00 246.03 L304.50 246.06 L305.00 246.09 L305.50 246.12 L306.00 246.16 L306.50 246.19 L307.00 246.22 L307.50 246.26 L308.00 246.30 L308.50 246.33 L309.00 246.37 L309.50 246.40 L310.00 246.43 L310.50 246.46 L311.00 246.49 L311.50 246.52 L312.00 246.55 L312.50 246.57 L313.00 246.59 L313.50 246.61 L314.00 246.62 L314.50 246.63 L315.00 246.64 L315.50 246.65 L316.00 246.65 L316.50 246.65 L317.00 246.65 L317.50 246.64 L318.00 246.63 L318.50 246.62 L319.00 246.61 L319.50 246.60 L320.00 246.58 L320.50 246.56 L321.00 246.54 L321.50 246.52 L322.00 246.50 L322.50 246.48 L323.00 246.46 L323.50 246.44 L324.00 246.43 L324.50 246.41 L325.00 246.39 L325.50 246.38 L326.00 246.36 L326.50 246.35 L327.00 246.34 L327.50 246.34 L328.00 246.33 L328.50 246.33 L329.00 246.33 L329.50 246.33 L330.00 246.33 L330.50 246.34 L331.00 246.35 L331.50 246.36 L332.00 246.37 L332.50 246.39 L333.00 246.40 L333.50 246.42 L334.00 246.43 L334.50 246.45 L335.00 246.47 L335.50 246.48 L336.00 246.50 L336.50 246.51 L337.00 246.53 L337.50 246.54 L338.00 246.55 L338.50 246.56 L339.00 246.57 L339.50 246.57 L340.00 246.58 L340.50 246.58 L341.00 246.57 L341.50 246.57 L342.00 246.56 L342.50 246.55 L343.00 246.53 L343.50 246.52 L344.00 246.49 L344.50 246.47 L345.00 246.45 L345.50 246.42" fill="none" stroke="#62dc62" stroke-width="1.2" stroke-linejoin="round"/>
<path d="M45.50 246.33 L46.00 246.33 L46.50 246.32 L47.00 246.32 L47.50 246.32 L48.00 246.32 L48.50 246.33 L49.00 246.33 L49.50 246.34 L50.00 246.35 L50.50 246.36 L51.00 246.38 L51.50 246.39 L52.00 246.41 L52.50 246.42 L53.00 246.44 L53.50 246.45 L54.00 246.47 L54.50 246.48 L55.00 246.50 L55.50 246.51 L56.00 246.52 L56.50 246.53 L57.00 246.54 L57.50 246.54 L58.00 246.54 L58.50 246.54 L59.00 246.54 L59.50 246.53 L60.00 246.52 L60.50 246.51 L61.00 246.50 L61.50 246.48 L62.00 246.46 L62.50 246.44 L63.00 246.41 L63.50 246.39 L64.00 246.36 L64.50 246.33 L65.00 246.29 L65.50 246.26 L66.00 246.22 L66.50 246.19 L67.00 246.15 L67.50 246.12 L68.00 246.08 L68.50 246.05 L69.00 246.01 L69.50 245.98 L70.00 245.95 L70.50 245.92 L71.00 245.90 L71.50 245.87 L72.00 245.85 L72.50 245.83 L73.00 245.81 L73.50 245.80 L74.00 245.79 L74.50 245.78 L75.00 245.78 L75.50 245.78 L76.00 245.78 L76.50 245.78 L77.00 245.79 L77.50 245.80 L78.00 245.81 L78.50 245.82 L79.00 245.83 L79.50 245.85 L80.00 245.87 L80.50 245.88 L81.00 245.90 L81.50 245.92 L82.00 245.94 L82.50 245.96 L83.00 245.97 L83.50 245.99 L84.00 246.00 L84.50 246.02 L85.00 246.03 L85.50 246.04 L86.00 246.05 L86.50 246.05 L87.00 246.06 L87.50 246.06 L88.00 246.06 L88.50 246.05 L89.00 246.05 L89.50 246.04 L90.00 246.03 L90.50 246.02 L91.00 246.00 L91.50 245.99 L92.00 245.97 L92.50 245.95 L93.00 245.94 L93.50 245.92 L94.00 245.90 L94.50 245.88 L95.00 245.86 L95.50 245.85 L96.00 245.83 L96.50 245.82 L97.00 245.80 L97.50 245.79 L98.00 245.78 L98.50 245.78 L99.00 245.77 L99.50 245.77 L100.00 245.77 L100.50 245.78 L101.00 245.78 L101.50 245.79 L102.00 245.81 L102.50 245.82 L103.00 245.84 L103.50 245.86 L104.00 245.89 L104.50 245.91 L105.00 245.94 L105.50 245.97 L106.00 246.00 L106.50 246.04 L107.00 246.07 L107.50 246.11 L108.00 246.14 L108.50 246.18 L109.00 246.21 L109.50 246.25 L110.00 246.28 L110.50 246.32 L111.00 246.35 L111.50 246.38 L112.00 246.40 L112.50 246.43 L113.00 246.45 L113.50 246.47 L114.00 246.49 L114.50 246.50 L115.00 246.52 L115.50 246.53 L116.00 246.53 L116.50 246.54 L117.00 246.54 L117.50 246.53 L118.00 246.53 L118.50 246.52 L119.00 246.51 L119.50 246.50 L120.00 246.49 L120.50 246.48 L121.00 246.46 L121.50 246.45 L122.00 246.43 L122.50 246.42 L123.00 246.40 L123.50 246.39 L124.00 246.37 L124.50 246.36 L125.00 246.35 L125.50 246.34 L126.00 246.33 L126.50 246.32 L127.00 246.32 L127.50 246.32 L128.00 246.32 L128.50 246.32 L129.00 246.32 L129.50 246.33 L130.00 246.34 L130.50 246.35 L131.00 246.36 L131.50 246.38 L132.00 246.39 L132.50 246.41 L133.00 246.43 L133.50 246.45 L134.00 246.47 L134.50 246.49 L135.00 246.51 L135.50 246.54 L136.00 246.56 L136.50 246.57 L137.00 246.59 L137.50 246.61 L138.00 246.62 L138.50 246.63 L139.00 246.64 L139.50 246.65 L140.00 246.65 L140.50 246.66 L141.00 246.65 L141.50 246.65 L142.00 246.64 L142.50 246.62 L143.00 246.60 L143.50 246.58 L144.00 246.55 L144.50 246.52 L145.00 246.49 L145.50 246.45 L146.00 246.41 L146.50 246.36 L147.00 246.31 L147.50 246.26 L148.00 246.20 L148.50 246.14 L149.00 246.08 L149.50 246.01 L150.00 245.94 L150.50 245.86 L151.00 245.78 L151.50 245.70 L152.00 245.61 L152.50 245.52 L153.00 245.42 L153.50 245.32 L154.00 245.22 L154.50 245.11 L155.00 244.99 L155.50 244.87 L156.00 244.74 L156.50 244.61 L157.00 244.46 L157.50 244.31 L158.00 244.16 L158.50 243.99 L159.00 243.81 L159.50 243.62 L160.00 243.42 L160.50 243.21 L161.00 242.98 L161.50 242.74 L162.00 242.48 L162.50 242.20 L163.00 241.90 L163.50 241.58 L164.00 241.23 L164.50 240.85 L165.00 240.43 L165.50 239.96 L166.00 239.43 L166.50 238.83 L167.00 238.14 L167.50 237.34 L168.00 236.41 L168.50 235.31 L169.00 234.01 L169.50 232.48 L170.00 230.67 L170.50 228.53 L171.00 226.01 L171.50 223.06 L172.00 219.62 L172.50 215.65 L173.00 211.09 L173.50 205.91 L174.00 200.09 L174.50 193.61 L175.00 186.47 L175.50 178.72 L176.00 170.39 L176.50 161.58 L177.00 152.39 L177.50 142.95 L178.00 133.43 L178.50 123.98 L179.00 114.82 L179.50 106.15 L180.00 98.16 L180.50 91.06 L181.00 85.03 L181.50 80.23 L182.00 76.79 L182.50 74.82 L183.00 74.34 L183.50 74.83 L184.00 76.01 L184.50 77.86 L185.00 80.35 L185.50 83.45 L186.00 87.10 L186.50 91.27 L187.00 95.89 L187.50 100.91 L188.00 106.26 L188.50 111.88 L189.00 117.70 L189.50 123.67 L190.00 129.73 L190.50 135.83 L191.00 141.92 L191.50 147.95 L192.00 153.88 L192.50 159.69 L193.00 165.34 L193.50 170.81 L194.00 176.08 L194.50 181.14 L195.00 185.97 L195.50 190.58 L196.00 194.95 L196.50 199.09 L197.00 203.00 L197.50 206.67 L198.00 210.11 L198.50 213.33 L199.00 216.33 L199.50 219.13 L200.00 221.72 L200.50 224.11 L201.00 226.32 L201.50 228.36 L202.00 230.22 L202.50 231.93 L203.00 233.49 L203.50 234.90 L204.00 236.18 L204.50 237.34 L205.00 238.39 L205.50 239.33 L206.00 240.17 L206.50 240.93 L207.00 241.60 L207.50 242.20 L208.00 242.73 L208.50 243.20 L209.00 243.61 L209.50 243.98 L210.00 244.31 L210.50 244.59 L211.00 244.84 L211.50 245.06 L212.00 245.26 L212.50 245.43 L213.00 245.58 L213.50 245.72 L214.00 245.84 L214.50 245.95 L215.00 246.04 L215.50 246.13 L216.00 246.21 L216.50 246.28 L217.00 246.34 L217.50 246.40 L218.00 246.45 L218.50 246.49 L219.00 246.54 L219.50 246.57 L220.00 246.61 L220.50 246.64 L221.00 246.66 L221.50 246.68 L222.00 246.70 L222.50 246.72 L223.00 246.73 L223.50 246.73 L224.00 246.74 L224.50 246.73 L225.00 246.73 L225.50 246.72 L226.00 246.71 L226.50 246.70 L227.00 246.68 L227.50 246.66 L228.00 246.64 L228.50 246.62 L229.00 246.59 L229.50 246.56 L230.00 246.53 L230.50 246.50 L231.00 246.47 L231.50 246.44 L232.00 246.41 L232.50 246.38 L233.00 246.35 L233.50 246.32 L234.00 246.30 L234.50 246.27 L235.00 246.25 L235.50 246.22 L236.00 246.20 L236.50 246.18 L237.00 246.17 L237.50 246.16 L238.00 246.15 L238.50 246.14 L239.00 246.13 L239.50 246.13 L240.00 246.13 L240.50 246.13 L241.00 246.13 L241.50 246.14 L242.00 246.14 L242.50 246.15 L243.00 246.16 L243.50 246.17 L244.00 246.18 L244.50 246.20 L245.00 246.21 L245.50 246.22 L246.00 246.23 L246.50 246.24 L247.00 246.25 L247.50 246.26 L248.00 246.26 L248.50 246.27 L249.00 246.27 L249.50 246.27 L250.00 246.27 L250.50 246.26 L251.00 246.25 L251.50 246.24 L252.00 246.23 L252.50 246.22 L253.00 246.20 L253.50 246.18 L254.00 246.16 L254.50 246.13 L255.00 246.11 L255.50 246.08 L256.00 246.05 L256.50 246.02 L257.00 245.99 L257.50 245.96 L258.00 245.93 L258.50 245.90 L259.00 245.87 L259.50 245.84 L260.00 245.81 L260.50 245.79 L261.00 245.76 L261.50 245.74 L262.00 245.72 L262.50 245.70 L263.00 245.68 L263.50 245.67 L264.00 245.66 L264.50 245.65 L265.00 245.65 L265.50 245.65 L266.00 245.65 L266.50 245.65 L267.00 245.66 L267.50 245.67 L268.00 245.69 L268.50 245.71 L269.00 245.72 L269.50 245.75 L270.00 245.77 L270.50 245.79 L271.00 245.82 L271.50 245.85 L272.00 245.87 L272.50 245.90 L273.00 245.93 L273.50 245.96 L274.00 245.98 L274.50 246.01 L275.00 246.04 L275.50 246.06 L276.00 246.08 L276.50 246.10 L277.00 246.12 L277.50 246.13 L278.00 246.15 L278.50 246.16 L279.00 246.17 L279.50 246.17 L280.00 246.18 L280.50 246.18 L281.00 246.18 L281.50 246.18 L282.00 246.17 L282.50 246.16 L283.00 246.16 L283.50 246.15 L284.00 246.14 L284.50 246.12 L285.00 246.11 L285.50 246.10 L286.00 246.09 L286.50 246.08 L287.00 246.06 L287.50 246.05 L288.00 246.05 L288.50 246.04 L289.00 246.03 L289.50 246.03 L290.00 246.03 L290.50 246.03 L291.00 246.03 L291.50 246.04 L292.00 246.05 L292.50 246.06 L293.00 246.07 L293.50 246.09 L294.00 246.11 L294.50 246.13 L295.00 246.15 L295.50 246.18 L296.00 246.20 L296.50 246.23 L297.00 246.26 L297.50 246.29 L298.00 246.33 L298.50 246.36 L299.00 246.39 L299.50 246.43 L300.00 246.46 L300.50 246.49 L301.00 246.52 L301.50 246.55 L302.00 246.58 L302.50 246.61 L303.00 246.63 L303.50 246.65 L304.00 246.67 L304.50 246.69 L305.00 246.70 L305.50 246.71 L306.00 246.71 L306.50 246.72 L307.00 246.72 L307.50 246.72 L308.00 246.71 L308.50 246.70 L309.00 246.69 L309.50 246.68 L310.00 246.66 L310.50 246.64 L311.00 246.63 L311.50 246.60 L312.00 246.58 L312.50 246.56 L313.00 246.53 L313.50 246.51 L314.00 246.48 L314.50 246.46 L315.00 246.44 L315.50 246.41 L316.00 246.39 L316.50 246.37 L317.00 246.35 L317.50 246.33 L318.00 246.32 L318.50 246.31 L319.00 246.30 L319.50 246.29 L320.00 246.28 L320.50 246.28 L321.00 246.28 L321.50 246.28 L322.00 246.28 L322.50 246.29 L323.00 246.29 L323.50 246.30 L324.00 246.31 L324.50 246.32 L325.00 246.34 L325.50 246.35 L326.00 246.36 L326.50 246.38 L327.00 246.39 L327.50 246.40 L328.00 246.41 L328.50 246.42 L329.00 246.43 L329.50 246.44 L330.00 246.45 L330.50 246.45 L331.00 246.45 L331.50 246.45 L332.00 246.45 L332.50 246.45 L333.00 246.44 L333.50 246.43 L334.00 246.41 L334.50 246.39 L335.00 246.38 L335.50 246.35 L336.00 246.33 L336.50 246.30 L337.00 246.27 L337.50 246.24 L338.00 246.21 L338.50 246.18 L339.00 246.14 L339.50 246.11 L340.00 246.08 L340.50 246.04 L341.00 246.01 L341.50 245.97 L342.00 245.94 L342.50 245.91 L343.00 245.88 L343.50 245.85 L344.00 245.82 L344.50 245.80 L345.00 245.78 L345.50 245.76" fill="none" stroke="#cc8274" stroke-width="1.2" stroke-linejoin="round"/>
<path d="M45.50 246.36 L46.00 246.37 L46.50 246.38 L47.00 246.39 L47.50 246.40 L48.00 246.41 L48.50 246.41 L49.00 246.41 L49.50 246.41 L50.00 246.41 L50.50 246.41 L51.00 246.40 L51.50 246.39 L52.00 246.37 L52.50 246.36 L53.00 246.34 L53.50 246.32 L54.00 246.30 L54.50 246.27 L55.00 246.24 L55.50 246.21 L56.00 246.18 L56.50 246.15 L57.00 246.12 L57.50 246.08 L58.00 246.05 L58.50 246.01 L59.00 245.98 L59.50 245.95 L60.00 245.91 L60.50 245.88 L61.00 245.85 L61.50 245.83 L62.00 245.80 L62.50 245.78 L63.00 245.76 L63.50 245.74 L64.00 245.72 L64.50 245.71 L65.00 245.70 L65.50 245.70 L66.00 245.69 L66.50 245.69 L67.00 245.70 L67.50 245.70 L68.00 245.71 L68.50 245.72 L69.00 245.74 L69.50 245.75 L70.00 245.77 L70.50 245.79 L71.00 245.81 L71.50 245.83 L72.00 245.85 L72.50 245.88 L73.00 245.90 L73.50 245.92 L74.00 245.94 L74.50 245.96 L75.00 245.98 L75.50 246.00 L76.00 246.02 L76.50 246.04 L77.00 246.05 L77.50 246.06 L78.00 246.07 L78.50 246.08 L79.00 246.08 L79.50 246.09 L80.00 246.09 L80.50 246.08 L81.00 246.08 L81.50 246.07 L82.00 246.06 L82.50 246.05 L83.00 246.04 L83.50 246.03 L84.00 246.02 L84.50 246.00 L85.00 245.99 L85.50 245.97 L86.00 245.96 L86.50 245.95 L87.00 245.93 L87.50 245.92 L88.00 245.91 L88.50 245.90 L89.00 245.89 L89.50 245.89 L90.00 245.88 L90.50 245.88 L91.00 245.89 L91.50 245.89 L92.00 245.90 L92.50 245.91 L93.00 245.92 L93.50 245.94 L94.00 245.96 L94.50 245.98 L95.00 246.00 L95.50 246.03 L96.00 246.06 L96.50 246.09 L97.00 246.12 L97.50 246.15 L98.00 246.19 L98.50 246.22 L99.00 246.26 L99.50 246.29 L100.00 246.33 L100.50 246.36 L101.00 246.40 L101.50 246.43 L102.00 246.46 L102.50 246.49 L103.00 246.52 L103.50 246.54 L104.00 246.56 L104.50 246.58 L105.00 246.60 L105.50 246.61 L106.00 246.63 L106.50 246.63 L107.00 246.64 L107.50 246.64 L108.00 246.64 L108.50 246.64 L109.00 246.63 L109.50 246.62 L110.00 246.61 L110.50 246.60 L111.00 246.59 L111.50 246.57 L112.00 246.55 L112.50 246.53 L113.00 246.51 L113.50 246.49 L114.00 246.48 L114.50 246.46 L115.00 246.44 L115.50 246.42 L116.00 246.40 L116.50 246.39 L117.00 246.37 L117.50 246.36 L118.00 246.35 L118.50 246.34 L119.00 246.34 L119.50 246.33 L120.00 246.33 L120.50 246.33 L121.00 246.33 L121.50 246.34 L122.00 246.35 L122.50 246.36 L123.00 246.37 L123.50 246.38 L124.00 246.39 L124.50 246.41 L125.00 246.43 L125.50 246.44 L126.00 246.46 L126.50 246.48 L127.00 246.49 L127.50 246.51 L128.00 246.53 L128.50 246.54 L129.00 246.55 L129.50 246.56 L130.00 246.57 L130.50 246.58 L131.00 246.59 L131.50 246.59 L132.00 246.59 L132.50 246.58 L133.00 246.58 L133.50 246.57 L134.00 246.56 L134.50 246.54 L135.00 246.52 L135.50 246.50 L136.00 246.48 L136.50 246.45 L137.00 246.42 L137.50 246.39 L138.00 246.36 L138.50 246.33 L139.00 246.30 L139.50 246.26 L140.00 246.23 L140.50 246.19 L141.00 246.15 L141.50 246.12 L142.00 246.08 L142.50 246.05 L143.00 246.02 L143.50 245.99 L144.00 245.96 L144.50 245.93 L145.00 245.91 L145.50 245.89 L146.00 245.87 L146.50 245.85 L147.00 245.84 L147.50 245.83 L148.00 245.82 L148.50 245.82 L149.00 245.82 L149.50 245.82 L150.00 245.82 L150.50 245.83 L151.00 245.84 L151.50 245.85 L152.00 245.86 L152.50 245.87 L153.00 245.89 L153.50 245.90 L154.00 245.92 L154.50 245.94 L155.00 245.95 L155.50 245.97 L156.00 245.99 L156.50 246.00 L157.00 246.02 L157.50 246.03 L158.00 246.04 L158.50 246.05 L159.00 246.05 L159.50 246.06 L160.00 246.06 L160.50 246.06 L161.00 246.06 L161.50 246.06 L162.00 246.05 L162.50 246.04 L163.00 246.03 L163.50 246.02 L164.00 246.00 L164.50 245.99 L165.00 245.97 L165.50 245.95 L166.00 245.93 L166.50 245.91 L167.00 245.89 L167.50 245.87 L168.00 245.85 L168.50 245.83 L169.00 245.81 L169.50 245.80 L170.00 245.78 L170.50 245.77 L171.00 245.76 L171.50 245.75 L172.00 245.74 L172.50 245.73 L173.00 245.73 L173.50 245.73 L174.00 245.74 L174.50 245.75 L175.00 245.76 L175.50 245.77 L176.00 245.79 L176.50 245.81 L177.00 245.83 L177.50 245.85 L178.00 245.88 L178.50 245.91 L179.00 245.94 L179.50 245.97 L180.00 246.00 L180.50 246.04 L181.00 246.07 L181.50 246.11 L182.00 246.14 L182.50 246.18 L183.00 246.21 L183.50 246.25 L184.00 246.28 L184.50 246.31 L185.00 246.34 L185.50 246.36 L186.00 246.39 L186.50 246.41 L187.00 246.43 L187.50 246.45 L188.00 246.46 L188.50 246.47 L189.00 246.48 L189.50 246.48 L190.00 246.49 L190.50 246.49 L191.00 246.48 L191.50 246.48 L192.00 246.47 L192.50 246.46 L193.00 246.45 L193.50 246.44 L194.00 246.43 L194.50 246.42 L195.00 246.40 L195.50 246.39 L196.00 246.37 L196.50 246.36 L197.00 246.35 L197.50 246.33 L198.00 246.32 L198.50 246.31 L199.00 246.31 L199.50 246.30 L200.00 246.30 L200.50 246.29 L201.00 246.29 L201.50 246.30 L202.00 246.30 L202.50 246.31 L203.00 246.32 L203.50 246.33 L204.00 246.35 L204.50 246.36 L205.00 246.38 L205.50 246.40 L206.00 246.42 L206.50 246.44 L207.00 246.46 L207.50 246.49 L208.00 246.51 L208.50 246.53 L209.00 246.55 L209.50 246.57 L210.00 246.59 L210.50 246.61 L211.00 246.62 L211.50 246.63 L212.00 246.63 L212.50 246.62 L213.00 246.60 L213.50 246.57 L214.00 246.52 L214.50 246.45 L215.00 246.35 L215.50 246.22 L216.00 246.04 L216.50 245.80 L217.00 245.48 L217.50 245.08 L218.00 244.56 L218.50 243.91 L219.00 243.10 L219.50 242.08 L220.00 240.83 L220.50 239.30 L221.00 237.46 L221.50 235.25 L222.00 232.63 L222.50 229.54 L223.00 225.95 L223.50 221.82 L224.00 217.10 L224.50 211.77 L225.00 205.81 L225.50 199.22 L226.00 192.02 L226.50 184.24 L227.00 175.94 L227.50 167.18 L228.00 158.07 L228.50 148.72 L229.00 139.27 L229.50 129.87 L230.00 120.68 L230.50 111.89 L231.00 103.67 L231.50 96.18 L232.00 89.60 L232.50 84.08 L233.00 79.75 L233.50 76.71 L234.00 75.03 L234.50 74.75 L235.00 75.84 L235.50 78.23 L236.00 81.88 L236.50 86.71 L237.00 92.60 L237.50 99.43 L238.00 107.05 L238.50 115.30 L239.00 124.02 L239.50 133.05 L240.00 142.23 L240.50 151.40 L241.00 160.44 L241.50 169.22 L242.00 177.64 L242.50 185.61 L243.00 193.06 L243.50 199.96 L244.00 206.26 L244.50 211.97 L245.00 217.09 L245.50 221.62 L246.00 225.59 L246.50 229.05 L247.00 232.02 L247.50 234.55 L248.00 236.69 L248.50 238.47 L249.00 239.95 L249.50 241.16 L250.00 242.14 L250.50 242.93 L251.00 243.56 L251.50 244.05 L252.00 244.44 L252.50 244.74 L253.00 244.97 L253.50 245.14 L254.00 245.27 L254.50 245.37 L255.00 245.44 L255.50 245.50 L256.00 245.54 L256.50 245.58 L257.00 245.60 L257.50 245.63 L258.00 245.65 L258.50 245.68 L259.00 245.70 L259.50 245.72 L260.00 245.75 L260.50 245.77 L261.00 245.80 L261.50 245.83 L262.00 245.86 L262.50 245.89 L263.00 245.92 L263.50 245.95 L264.00 245.99 L264.50 246.02 L265.00 246.05 L265.50 246.08 L266.00 246.11 L266.50 246.14 L267.00 246.16 L267.50 246.19 L268.00 246.21 L268.50 246.23 L269.00 246.25 L269.50 246.26 L270.00 246.28 L270.50 246.29 L271.00 246.29 L271.50 246.30 L272.00 246.30 L272.50 246.30 L273.00 246.30 L273.50 246.29 L274.00 246.29 L274.50 246.28 L275.00 246.27 L275.50 246.26 L276.00 246.25 L276.50 246.24 L277.00 246.23 L277.50 246.22 L278.00 246.21 L278.50 246.19 L279.00 246.18 L279.50 246.18 L280.00 246.17 L280.50 246.16 L281.00 246.16 L281.50 246.16 L282.00 246.16 L282.50 246.16 L283.00 246.17 L283.50 246.17 L284.00 246.18 L284.50 246.20 L285.00 246.21 L285.50 246.23 L286.00 246.25 L286.50 246.27 L287.00 246.30 L287.50 246.32 L288.00 246.35 L288.50 246.38 L289.00 246.40 L289.50 246.43 L290.00 246.46 L290.50 246.49 L291.00 246.52 L291.50 246.55 L292.00 246.58 L292.50 246.61 L293.00 246.63 L293.50 246.65 L294.00 246.67 L294.50 246.69 L295.00 246.71 L295.50 246.72 L296.00 246.73 L296.50 246.74 L297.00 246.74 L297.50 246.75 L298.00 246.74 L298.50 246.74 L299.00 246.73 L299.50 246.72 L300.00 246.70 L300.50 246.69 L301.00 246.67 L301.50 246.65 L302.00 246.62 L302.50 246.60 L303.00 246.57 L303.50 246.54 L304.00 246.52 L304.50 246.49 L305.00 246.46 L305.50 246.43 L306.00 246.40 L306.50 246.37 L307.00 246.35 L307.50 246.32 L308.00 246.30 L308.50 246.27 L309.00 246.25 L309.50 246.24 L310.00 246.22 L310.50 246.21 L311.00 246.20 L311.50 246.19 L312.00 246.18 L312.50 246.18 L313.00 246.18 L313.50 246.18 L314.00 246.18 L314.50 246.18 L315.00 246.19 L315.50 246.20 L316.00 246.21 L316.50 246.22 L317.00 246.23 L317.50 246.24 L318.00 246.26 L318.50 246.27 L319.00 246.28 L319.50 246.29 L320.00 246.30 L320.50 246.31 L321.00 246.31 L321.50 246.32 L322.00 246.32 L322.50 246.32 L323.00 246.32 L323.50 246.32 L324.00 246.31 L324.50 246.30 L325.00 246.29 L325.50 246.27 L326.00 246.26 L326.50 246.24 L327.00 246.22 L327.50 246.19 L328.00 246.17 L328.50 246.14 L329.00 246.11 L329.50 246.08 L330.00 246.05 L330.50 246.02 L331.00 245.98 L331.50 245.95 L332.00 245.92 L332.50 245.89 L333.00 245.86 L333.50 245.83 L334.00 245.80 L334.50 245.77 L335.00 245.75 L335.50 245.73 L336.00 245.71 L336.50 245.69 L337.00 245.68 L337.50 245.67 L338.00 245.66 L338.50 245.66 L339.00 245.66 L339.50 245.66 L340.00 245.66 L340.50 245.67 L341.00 245.68 L341.50 245.70 L342.00 245.71 L342.50 245.73 L343.00 245.75 L343.50 245.77 L344.00 245.80 L344.50 245.82 L345.00 245.85 L345.50 245.87" fill="none" stroke="#c94a5a" stroke-width="1.2" stroke-linejoin="round"/>
<path d="M45.50 246.16 L46.00 246.14 L46.50 246.11 L47.00 246.08 L47.50 246.06 L48.00 246.02 L48.50 245.99 L49.00 245.96 L49.50 245.93 L50.00 245.90 L50.50 245.87 L51.00 245.84 L51.50 245.81 L52.00 245.78 L52.50 245.76 L53.00 245.74 L53.50 245.72 L54.00 245.70 L54.50 245.68 L55.00 245.67 L55.50 245.66 L56.00 245.65 L56.50 245.65 L57.00 245.65 L57.50 245.65 L58.00 245.66 L58.50 245.67 L59.00 245.68 L59.50 245.69 L60.00 245.71 L60.50 245.73 L61.00 245.75 L61.50 245.77 L62.00 245.80 L62.50 245.82 L63.00 245.85 L63.50 245.88 L64.00 245.90 L64.50 245.93 L65.00 245.96 L65.50 245.98 L66.00 246.01 L66.50 246.03 L67.00 246.06 L67.50 246.08 L68.00 246.10 L68.50 246.11 L69.00 246.13 L69.50 246.14 L70.00 246.15 L70.50 246.16 L71.00 246.17 L71.50 246.17 L72.00 246.17 L72.50 246.17 L73.00 246.16 L73.50 246.16 L74.00 246.15 L74.50 246.14 L75.00 246.13 L75.50 246.12 L76.00 246.11 L76.50 246.10 L77.00 246.08 L77.50 246.07 L78.00 246.06 L78.50 246.05 L79.00 246.04 L79.50 246.03 L80.00 246.02 L80.50 246.02 L81.00 246.02 L81.50 246.01 L82.00 246.02 L82.50 246.02 L83.00 246.03 L83.50 246.04 L84.00 246.05 L84.50 246.06 L85.00 246.08 L85.50 246.10 L86.00 246.12 L86.50 246.14 L87.00 246.17 L87.50 246.20 L88.00 246.23 L88.50 246.26 L89.00 246.29 L89.50 246.32 L90.00 246.36 L90.50 246.39 L91.00 246.42 L91.50 246.46 L92.00 246.49 L92.50 246.52 L93.00 246.55 L93.50 246.58 L94.00 246.60 L94.50 246.63 L95.00 246.65 L95.50 246.67 L96.00 246.68 L96.50 246.69 L97.00 246.70 L97.50 246.71 L98.00 246.71 L98.50 246.71 L99.00 246.71 L99.50 246.71 L100.00 246.70 L100.50 246.69 L101.00 246.67 L101.50 246.66 L102.00 246.64 L102.50 246.62 L103.00 246.60 L103.50 246.58 L104.00 246.55 L104.50 246.53 L105.00 246.50 L105.50 246.48 L106.00 246.46 L106.50 246.43 L107.00 246.41 L107.50 246.39 L108.00 246.37 L108.50 246.35 L109.00 246.33 L109.50 246.32 L110.00 246.31 L110.50 246.30 L111.00 246.29 L111.50 246.29 L112.00 246.28 L112.50 246.28 L113.00 246.29 L113.50 246.29 L114.00 246.30 L114.50 246.30 L115.00 246.31 L115.50 246.32 L116.00 246.34 L116.50 246.35 L117.00 246.36 L117.50 246.38 L118.00 246.39 L118.50 246.40 L119.00 246.42 L119.50 246.43 L120.00 246.44 L120.50 246.45 L121.00 246.46 L121.50 246.46 L122.00 246.47 L122.50 246.47 L123.00 246.47 L123.50 246.46 L124.00 246.46 L124.50 246.45 L125.00 246.44 L125.50 246.42 L126.00 246.40 L126.50 246.38 L127.00 246.36 L127.50 246.34 L128.00 246.31 L128.50 246.28 L129.00 246.25 L129.50 246.22 L130.00 246.18 L130.50 246.15 L131.00 246.11 L131.50 246.08 L132.00 246.04 L132.50 246.01 L133.00 245.98 L133.50 245.94 L134.00 245.91 L134.50 245.88 L135.00 245.85 L135.50 245.83 L136.00 245.81 L136.50 245.78 L137.00 245.77 L137.50 245.75 L138.00 245.74 L138.50 245.73 L139.00 245.72 L139.50 245.72 L140.00 245.72 L140.50 245.72 L141.00 245.73 L141.50 245.74 L142.00 245.75 L142.50 245.76 L143.00 245.78 L143.50 245.79 L144.00 245.81 L144.50 245.83 L145.00 245.85 L145.50 245.87 L146.00 245.89 L146.50 245.91 L147.00 245.93 L147.50 245.95 L148.00 245.97 L148.50 245.99 L149.00 246.01 L149.50 246.02 L150.00 246.03 L150.50 246.05 L151.00 246.05 L151.50 246.06 L152.00 246.07 L152.50 246.07 L153.00 246.07 L153.50 246.06 L154.00 246.06 L154.50 246.05 L155.00 246.04 L155.50 246.03 L156.00 246.02 L156.50 246.01 L157.00 245.99 L157.50 245.98 L158.00 245.96 L158.50 245.94 L159.00 245.93 L159.50 245.91 L160.00 245.90 L160.50 245.88 L161.00 245.87 L161.50 245.86 L162.00 245.85 L162.50 245.84 L163.00 245.84 L163.50 245.84 L164.00 245.84 L164.50 245.84 L165.00 245.84 L165.50 245.85 L166.00 245.86 L166.50 245.88 L167.00 245.89 L167.50 245.91 L168.00 245.94 L168.50 245.96 L169.00 245.99 L169.50 246.02 L170.00 246.05 L170.50 246.08 L171.00 246.11 L171.50 246.15 L172.00 246.18 L172.50 246.22 L173.00 246.26 L173.50 246.29 L174.00 246.33 L174.50 246.36 L175.00 246.39 L175.50 246.42 L176.00 246.45 L176.50 246.48 L177.00 246.50 L177.50 246.53 L178.00 246.55 L178.50 246.56 L179.00 246.58 L179.50 246.59 L180.00 246.60 L180.50 246.60 L181.00 246.60 L181.50 246.60 L182.00 246.60 L182.50 246.59 L183.00 246.59 L183.50 246.58 L184.00 246.56 L184.50 246.55 L185.00 246.53 L185.50 246.52 L186.00 246.50 L186.50 246.48 L187.00 246.46 L187.50 246.45 L188.00 246.43 L188.50 246.41 L189.00 246.40 L189.50 246.38 L190.00 246.37 L190.50 246.36 L191.00 246.35 L191.50 246.34 L192.00 246.34 L192.50 246.33 L193.00 246.33 L193.50 246.33 L194.00 246.34 L194.50 246.34 L195.00 246.35 L195.50 246.36 L196.00 246.37 L196.50 246.39 L197.00 246.40 L197.50 246.42 L198.00 246.44 L198.50 246.46 L199.00 246.47 L199.50 246.49 L200.00 246.51 L200.50 246.53 L201.00 246.55 L201.50 246.56 L202.00 246.58 L202.50 246.59 L203.00 246.60 L203.50 246.61 L204.00 246.62 L204.50 246.63 L205.00 246.63 L205.50 246.63 L206.00 246.62 L206.50 246.62 L207.00 246.61 L207.50 246.59 L208.00 246.58 L208.50 246.56 L209.00 246.54 L209.50 246.52 L210.00 246.49 L210.50 246.46 L211.00 246.43 L211.50 246.40 L212.00 246.37 L212.50 246.33 L213.00 246.30 L213.50 246.26 L214.00 246.23 L214.50 246.19 L215.00 246.16 L215.50 246.12 L216.00 246.09 L216.50 246.06 L217.00 246.03 L217.50 246.00 L218.00 245.97 L218.50 245.95 L219.00 245.93 L219.50 245.91 L220.00 245.90 L220.50 245.89 L221.00 245.88 L221.50 245.87 L222.00 245.87 L222.50 245.86 L223.00 245.87 L223.50 245.87 L224.00 245.88 L224.50 245.88 L225.00 245.89 L225.50 245.91 L226.00 245.92 L226.50 245.93 L227.00 245.95 L227.50 245.96 L228.00 245.98 L228.50 245.99 L229.00 246.01 L229.50 246.02 L230.00 246.04 L230.50 246.05 L231.00 246.06 L231.50 246.06 L232.00 246.07 L232.50 246.08 L233.00 246.08 L233.50 246.08 L234.00 246.07 L234.50 246.07 L235.00 246.06 L235.50 246.05 L236.00 246.04 L236.50 246.03 L237.00 246.01 L237.50 246.00 L238.00 245.98 L238.50 245.96 L239.00 245.94 L239.50 245.91 L240.00 245.89 L240.50 245.87 L241.00 245.84 L241.50 245.82 L242.00 245.80 L242.50 245.77 L243.00 245.75 L243.50 245.72 L244.00 245.70 L244.50 245.67 L245.00 245.63 L245.50 245.59 L246.00 245.54 L246.50 245.48 L247.00 245.39 L247.50 245.29 L248.00 245.15 L248.50 244.96 L249.00 244.72 L249.50 244.41 L250.00 244.02 L250.50 243.51 L251.00 242.87 L251.50 242.07 L252.00 241.08 L252.50 239.86 L253.00 238.38 L253.50 236.59 L254.00 234.45 L254.50 231.92 L255.00 228.96 L255.50 225.52 L256.00 221.56 L256.50 217.05 L257.00 211.97 L257.50 206.30 L258.00 200.04 L258.50 193.20 L259.00 185.80 L259.50 177.90 L260.00 169.56 L260.50 160.85 L261.00 151.89 L261.50 142.79 L262.00 133.68 L262.50 124.71 L263.00 116.03 L263.50 107.81 L264.00 100.21 L264.50 93.37 L265.00 87.45 L265.50 82.58 L266.00 78.85 L266.50 76.36 L267.00 75.16 L267.50 75.16 L268.00 75.89 L268.50 77.28 L269.00 79.32 L269.50 81.96 L270.00 85.18 L270.50 88.92 L271.00 93.13 L271.50 97.77 L272.00 102.77 L272.50 108.08 L273.00 113.63 L273.50 119.38 L274.00 125.27 L274.50 131.25 L275.00 137.28 L275.50 143.32 L276.00 149.32 L276.50 155.25 L277.00 161.08 L277.50 166.79 L278.00 172.34 L278.50 177.72 L279.00 182.91 L279.50 187.90 L280.00 192.66 L280.50 197.20 L281.00 201.51 L281.50 205.57 L282.00 209.39 L282.50 212.97 L283.00 216.31 L283.50 219.40 L284.00 222.27 L284.50 224.90 L285.00 227.32 L285.50 229.53 L286.00 231.54 L286.50 233.35 L287.00 234.99 L287.50 236.46 L288.00 237.78 L288.50 238.94 L289.00 239.98 L289.50 240.89 L290.00 241.69 L290.50 242.39 L291.00 243.00 L291.50 243.52 L292.00 243.97 L292.50 244.35 L293.00 244.68 L293.50 244.95 L294.00 245.18 L294.50 245.37 L295.00 245.53 L295.50 245.65 L296.00 245.75 L296.50 245.83 L297.00 245.89 L297.50 245.94 L298.00 245.98 L298.50 246.00 L299.00 246.02 L299.50 246.03 L300.00 246.03 L300.50 246.03 L301.00 246.03 L301.50 246.03 L302.00 246.03 L302.50 246.03 L303.00 246.03 L303.50 246.03 L304.00 246.03 L304.50 246.03 L305.00 246.04 L305.50 246.04 L306.00 246.05 L306.50 246.06 L307.00 246.07 L307.50 246.08 L308.00 246.09 L308.50 246.10 L309.00 246.11 L309.50 246.12 L310.00 246.14 L310.50 246.15 L311.00 246.16 L311.50 246.17 L312.00 246.18 L312.50 246.19 L313.00 246.19 L313.50 246.19 L314.00 246.20 L314.50 246.20 L315.00 246.19 L315.50 246.19 L316.00 246.18 L316.50 246.17 L317.00 246.15 L317.50 246.14 L318.00 246.12 L318.50 246.10 L319.00 246.08 L319.50 246.06 L320.00 246.03 L320.50 246.01 L321.00 245.98 L321.50 245.95 L322.00 245.92 L322.50 245.89 L323.00 245.87 L323.50 245.84 L324.00 245.81 L324.50 245.78 L325.00 245.76 L325.50 245.74 L326.00 245.72 L326.50 245.70 L327.00 245.68 L327.50 245.67 L328.00 245.66 L328.50 245.65 L329.00 245.65 L329.50 245.64 L330.00 245.65 L330.50 245.65 L331.00 245.66 L331.50 245.67 L332.00 245.68 L332.50 245.70 L333.00 245.72 L333.50 245.74 L334.00 245.77 L334.50 245.79 L335.00 245.82 L335.50 245.85 L336.00 245.88 L336.50 245.91 L337.00 245.94 L337.50 245.97 L338.00 246.00 L338.50 246.03 L339.00 246.05 L339.50 246.08 L340.00 246.11 L340.50 246.13 L341.00 246.15 L341.50 246.17 L342.00 246.19 L342.50 246.21 L343.00 246.22 L343.50 246.23 L344.00 246.24 L344.50 246.25 L345.00 246.25 L345.50 246.25" fill="none" stroke="#d6d6d6" stroke-width="1.2" stroke-linejoin="round"/>
<path d="M45.50 245.67 L46.00 245.66 L46.50 245.65 L47.00 245.65 L47.50 245.65 L48.00 245.65 L48.50 245.66 L49.00 245.67 L49.50 245.68 L50.00 245.69 L50.50 245.71 L51.00 245.73 L51.50 245.75 L52.00 245.78 L52.50 245.80 L53.00 245.83 L53.50 245.86 L54.00 245.89 L54.50 245.92 L55.00 245.95 L55.50 245.98 L56.00 246.02 L56.50 246.05 L57.00 246.08 L57.50 246.11 L58.00 246.13 L58.50 246.16 L59.00 246.18 L59.50 246.20 L60.00 246.22 L60.50 246.24 L61.00 246.25 L61.50 246.27 L62.00 246.28 L62.50 246.28 L63.00 246.29 L63.50 246.29 L64.00 246.29 L64.50 246.29 L65.00 246.28 L65.50 246.27 L66.00 246.27 L66.50 246.26 L67.00 246.25 L67.50 246.24 L68.00 246.22 L68.50 246.21 L69.00 246.20 L69.50 246.19 L70.00 246.18 L70.50 246.17 L71.00 246.16 L71.50 246.16 L72.00 246.15 L72.50 246.15 L73.00 246.15 L73.50 246.15 L74.00 246.15 L74.50 246.16 L75.00 246.17 L75.50 246.18 L76.00 246.19 L76.50 246.21 L77.00 246.22 L77.50 246.25 L78.00 246.27 L78.50 246.29 L79.00 246.32 L79.50 246.35 L80.00 246.37 L80.50 246.40 L81.00 246.43 L81.50 246.46 L82.00 246.49 L82.50 246.52 L83.00 246.55 L83.50 246.58 L84.00 246.61 L84.50 246.63 L85.00 246.66 L85.50 246.68 L86.00 246.69 L86.50 246.71 L87.00 246.72 L87.50 246.73 L88.00 246.74 L88.50 246.74 L89.00 246.74 L89.50 246.74 L90.00 246.74 L90.50 246.73 L91.00 246.72 L91.50 246.70 L92.00 246.69 L92.50 246.67 L93.00 246.65 L93.50 246.62 L94.00 246.60 L94.50 246.57 L95.00 246.54 L95.50 246.51 L96.00 246.49 L96.50 246.46 L97.00 246.43 L97.50 246.40 L98.00 246.37 L98.50 246.35 L99.00 246.32 L99.50 246.30 L100.00 246.28 L100.50 246.26 L101.00 246.24 L101.50 246.23 L102.00 246.21 L102.50 246.20 L103.00 246.20 L103.50 246.19 L104.00 246.19 L104.50 246.19 L105.00 246.19 L105.50 246.19 L106.00 246.20 L106.50 246.21 L107.00 246.21 L107.50 246.22 L108.00 246.24 L108.50 246.25 L109.00 246.26 L109.50 246.27 L110.00 246.28 L110.50 246.29 L111.00 246.30 L111.50 246.31 L112.00 246.32 L112.50 246.33 L113.00 246.33 L113.50 246.33 L114.00 246.33 L114.50 246.33 L115.00 246.33 L115.50 246.32 L116.00 246.31 L116.50 246.30 L117.00 246.28 L117.50 246.26 L118.00 246.24 L118.50 246.22 L119.00 246.20 L119.50 246.17 L120.00 246.14 L120.50 246.11 L121.00 246.08 L121.50 246.05 L122.00 246.02 L122.50 245.98 L123.00 245.95 L123.50 245.92 L124.00 245.89 L124.50 245.86 L125.00 245.83 L125.50 245.80 L126.00 245.78 L126.50 245.75 L127.00 245.73 L127.50 245.71 L128.00 245.70 L128.50 245.68 L129.00 245.67 L129.50 245.67 L130.00 245.66 L130.50 245.66 L131.00 245.66 L131.50 245.67 L132.00 245.68 L132.50 245.69 L133.00 245.70 L133.50 245.72 L134.00 245.74 L134.50 245.76 L135.00 245.78 L135.50 245.80 L136.00 245.83 L136.50 245.85 L137.00 245.88 L137.50 245.90 L138.00 245.93 L138.50 245.95 L139.00 245.98 L139.50 246.00 L140.00 246.02 L140.50 246.04 L141.00 246.06 L141.50 246.08 L142.00 246.09 L142.50 246.10 L143.00 246.11 L143.50 246.12 L144.00 246.13 L144.50 246.13 L145.00 246.13 L145.50 246.13 L146.00 246.12 L146.50 246.12 L147.00 246.11 L147.50 246.10 L148.00 246.09 L148.50 246.08 L149.00 246.07 L149.50 246.06 L150.00 246.04 L150.50 246.03 L151.00 246.02 L151.50 246.00 L152.00 245.99 L152.50 245.98 L153.00 245.98 L153.50 245.97 L154.00 245.96 L154.50 245.96 L155.00 245.96 L155.50 245.96 L156.00 245.97 L156.50 245.98 L157.00 245.99 L157.50 246.00 L158.00 246.02 L158.50 246.04 L159.00 246.06 L159.50 246.08 L160.00 246.11 L160.50 246.13 L161.00 246.16 L161.50 246.19 L162.00 246.23 L162.50 246.26 L163.00 246.29 L163.50 246.33 L164.00 246.36 L164.50 246.40 L165.00 246.43 L165.50 246.46 L166.00 246.49 L166.50 246.52 L167.00 246.55 L167.50 246.58 L168.00 246.60 L168.50 246.62 L169.00 246.64 L169.50 246.65 L170.00 246.67 L170.50 246.67 L171.00 246.68 L171.50 246.68 L172.00 246.67 L172.50 246.66 L173.00 246.65 L173.50 246.62 L174.00 246.60 L174.50 246.56 L175.00 246.51 L175.50 246.46 L176.00 246.40 L176.50 246.32 L177.00 246.23 L177.50 246.13 L178.00 246.02 L178.50 245.89 L179.00 245.75 L179.50 245.60 L180.00 245.44 L180.50 245.27 L181.00 245.09 L181.50 244.91 L182.00 244.73 L182.50 244.56 L183.00 244.40 L183.50 244.26 L184.00 244.13 L184.50 244.03 L185.00 243.96 L185.50 243.91 L186.00 243.90 L186.50 243.92 L187.00 243.97 L187.50 244.05 L188.00 244.16 L188.50 244.29 L189.00 244.43 L189.50 244.60 L190.00 244.77 L190.50 244.95 L191.00 245.12 L191.50 245.30 L192.00 245.46 L192.50 245.62 L193.00 245.76 L193.50 245.89 L194.00 246.00 L194.50 246.10 L195.00 246.19 L195.50 246.26 L196.00 246.31 L196.50 246.36 L197.00 246.39 L197.50 246.41 L198.00 246.43 L198.50 246.43 L199.00 246.43 L199.50 246.42 L200.00 246.41 L200.50 246.39 L201.00 246.37 L201.50 246.34 L202.00 246.31 L202.50 246.28 L203.00 246.25 L203.50 246.22 L204.00 246.18 L204.50 246.15 L205.00 246.11 L205.50 246.08 L206.00 246.04 L206.50 246.01 L207.00 245.98 L207.50 245.94 L208.00 245.91 L208.50 245.89 L209.00 245.86 L209.50 245.84 L210.00 245.82 L210.50 245.80 L211.00 245.79 L211.50 245.77 L212.00 245.76 L212.50 245.76 L213.00 245.76 L213.50 245.76 L214.00 245.76 L214.50 245.76 L215.00 245.77 L215.50 245.78 L216.00 245.79 L216.50 245.81 L217.00 245.82 L217.50 245.84 L218.00 245.86 L218.50 245.88 L219.00 245.90 L219.50 245.92 L220.00 245.94 L220.50 245.95 L221.00 245.97 L221.50 245.99 L222.00 246.00 L222.50 246.02 L223.00 246.03 L223.50 246.04 L224.00 246.05 L224.50 246.05 L225.00 246.06 L225.50 246.06 L226.00 246.06 L226.50 246.05 L227.00 246.05 L227.50 246.04 L228.00 246.03 L228.50 246.02 L229.00 246.01 L229.50 245.99 L230.00 245.98 L230.50 245.96 L231.00 245.94 L231.50 245.92 L232.00 245.91 L232.50 245.89 L233.00 245.87 L233.50 245.86 L234.00 245.84 L234.50 245.83 L235.00 245.82 L235.50 245.81 L236.00 245.80 L236.50 245.79 L237.00 245.79 L237.50 245.79 L238.00 245.79 L238.50 245.79 L239.00 245.80 L239.50 245.81 L240.00 245.82 L240.50 245.83 L241.00 245.84 L241.50 245.86 L242.00 245.87 L242.50 245.88 L243.00 245.89 L243.50 245.89 L244.00 245.89 L244.50 245.88 L245.00 245.85 L245.50 245.82 L246.00 245.77 L246.50 245.69 L247.00 245.59 L247.50 245.46 L248.00 245.30 L248.50 245.09 L249.00 244.83 L249.50 244.51 L250.00 244.12 L250.50 243.66 L251.00 243.12 L251.50 242.48 L252.00 241.73 L252.50 240.86 L253.00 239.87 L253.50 238.74 L254.00 237.47 L254.50 236.03 L255.00 234.44 L255.50 232.67 L256.00 230.74 L256.50 228.62 L257.00 226.34 L257.50 223.89 L258.00 221.28 L258.50 218.52 L259.00 215.63 L259.50 212.62 L260.00 209.53 L260.50 206.37 L261.00 203.18 L261.50 199.99 L262.00 196.84 L262.50 193.76 L263.00 190.80 L263.50 187.99 L264.00 185.37 L264.50 182.97 L265.00 180.84 L265.50 179.01 L266.00 177.50 L266.50 176.34 L267.00 175.55 L267.50 175.13 L268.00 175.09 L268.50 175.31 L269.00 175.77 L269.50 176.46 L270.00 177.37 L270.50 178.49 L271.00 179.82 L271.50 181.34 L272.00 183.04 L272.50 184.90 L273.00 186.90 L273.50 189.03 L274.00 191.27 L274.50 193.59 L275.00 195.99 L275.50 198.43 L276.00 200.91 L276.50 203.41 L277.00 205.90 L277.50 208.37 L278.00 210.81 L278.50 213.21 L279.00 215.54 L279.50 217.80 L280.00 219.99 L280.50 222.08 L281.00 224.08 L281.50 225.98 L282.00 227.78 L282.50 229.47 L283.00 231.06 L283.50 232.53 L284.00 233.90 L284.50 235.17 L285.00 236.33 L285.50 237.40 L286.00 238.37 L286.50 239.25 L287.00 240.05 L287.50 240.76 L288.00 241.40 L288.50 241.97 L289.00 242.48 L289.50 242.93 L290.00 243.32 L290.50 243.66 L291.00 243.96 L291.50 244.22 L292.00 244.45 L292.50 244.64 L293.00 244.80 L293.50 244.93 L294.00 245.04 L294.50 245.14 L295.00 245.21 L295.50 245.26 L296.00 245.30 L296.50 245.32 L297.00 245.33 L297.50 245.32 L298.00 245.30 L298.50 245.26 L299.00 245.20 L299.50 245.12 L300.00 245.03 L300.50 244.91 L301.00 244.76 L301.50 244.58 L302.00 244.36 L302.50 244.09 L303.00 243.77 L303.50 243.39 L304.00 242.93 L304.50 242.38 L305.00 241.72 L305.50 240.93 L306.00 240.00 L306.50 238.89 L307.00 237.58 L307.50 236.04 L308.00 234.24 L308.50 232.13 L309.00 229.69 L309.50 226.87 L310.00 223.65 L310.50 219.98 L311.00 215.84 L311.50 211.21 L312.00 206.05 L312.50 200.37 L313.00 194.17 L313.50 187.45 L314.00 180.25 L314.50 172.61 L315.00 164.60 L315.50 156.28 L316.00 147.75 L316.50 139.11 L317.00 130.49 L317.50 122.02 L318.00 113.83 L318.50 106.07 L319.00 98.87 L319.50 92.39 L320.00 86.74 L320.50 82.05 L321.00 78.41 L321.50 75.90 L322.00 74.58 L322.50 74.47 L323.00 75.59 L323.50 77.89 L324.00 81.35 L324.50 85.88 L325.00 91.38 L325.50 97.75 L326.00 104.85 L326.50 112.55 L327.00 120.70 L327.50 129.17 L328.00 137.80 L328.50 146.47 L329.00 155.05 L329.50 163.44 L330.00 171.52 L330.50 179.24 L331.00 186.51 L331.50 193.30 L332.00 199.57 L332.50 205.31 L333.00 210.51 L333.50 215.18 L334.00 219.35 L334.50 223.02 L335.00 226.24 L335.50 229.04 L336.00 231.46 L336.50 233.54 L337.00 235.30 L337.50 236.81 L338.00 238.07 L338.50 239.14 L339.00 240.03 L339.50 240.78 L340.00 241.41 L340.50 241.93 L341.00 242.38 L341.50 242.75 L342.00 243.07 L342.50 243.34 L343.00 243.58 L343.50 243.79 L344.00 243.98 L344.50 244.14 L345.00 244.29 L345.50 244.43" fill="none" stroke="#6c3448" stroke-width="1.2" stroke-linejoin="round"/>
<line x1="61.90" y1="75.50" x2="59.84" y2="52.58" stroke="#4a4a4a" stroke-width="0.9"/>
<path d="M59.30 46.60 L61.97 52.89 L57.79 53.26Z" fill="#2e2e2e"/>
<line x1="63.90" y1="75.50" x2="70.60" y2="65.75" stroke="#4a4a4a" stroke-width="0.9"/>
<path d="M74.00 60.80 L72.05 67.35 L68.59 64.97Z" fill="#2e2e2e"/>
<line x1="65.90" y1="75.50" x2="93.48" y2="56.24" stroke="#4a4a4a" stroke-width="0.9"/>
<path d="M98.40 52.80 L94.27 58.24 L91.87 54.80Z" fill="#2e2e2e"/>
<line x1="67.80" y1="75.50" x2="105.17" y2="66.42" stroke="#4a4a4a" stroke-width="0.9"/>
<path d="M111.00 65.00 L105.18 68.58 L104.19 64.49Z" fill="#2e2e2e"/>
<line x1="74.50" y1="75.50" x2="98.76" y2="92.20" stroke="#4a4a4a" stroke-width="0.9"/>
<path d="M103.70 95.60 L97.16 93.64 L99.54 90.18Z" fill="#2e2e2e"/>
<line x1="80.50" y1="76.00" x2="93.98" y2="124.22" stroke="#4a4a4a" stroke-width="0.9"/>
<path d="M95.60 130.00 L91.83 124.31 L95.87 123.17Z" fill="#2e2e2e"/>
<line x1="143.70" y1="74.50" x2="143.53" y2="66.80" stroke="#4a4a4a" stroke-width="0.9"/>
<path d="M143.40 60.80 L145.64 67.25 L141.44 67.34Z" fill="#2e2e2e"/>
<line x1="151.50" y1="74.50" x2="158.39" y2="64.54" stroke="#4a4a4a" stroke-width="0.9"/>
<path d="M161.80 59.60 L159.83 66.14 L156.38 63.75Z" fill="#2e2e2e"/>
<line x1="183.30" y1="74.00" x2="184.25" y2="63.58" stroke="#4a4a4a" stroke-width="0.9"/>
<path d="M184.80 57.60 L186.30 64.26 L182.12 63.88Z" fill="#2e2e2e"/>
<line x1="234.50" y1="73.50" x2="234.70" y2="61.60" stroke="#4a4a4a" stroke-width="0.9"/>
<path d="M234.80 55.60 L236.79 62.13 L232.59 62.06Z" fill="#2e2e2e"/>
<line x1="267.50" y1="73.30" x2="267.37" y2="61.10" stroke="#4a4a4a" stroke-width="0.9"/>
<path d="M267.30 55.10 L269.47 61.58 L265.27 61.62Z" fill="#2e2e2e"/>
<line x1="322.30" y1="71.50" x2="322.30" y2="58.50" stroke="#4a4a4a" stroke-width="0.9"/>
<path d="M322.30 52.50 L324.40 59.00 L320.20 59.00Z" fill="#2e2e2e"/>
<text x="258.06" y="48.20" font-size="10.4" textLength="35.16" lengthAdjust="spacingAndGlyphs" >N form</text>
<text x="307.84" y="48.20" font-size="10.4" textLength="35.90" lengthAdjust="spacingAndGlyphs" >D form</text>
<g stroke="#c4aeae" stroke-width="0.55"><line x1="53.6" y1="19.6" x2="59.8" y2="25.9"/><line x1="50.1" y1="13.3" x2="53.6" y2="19.6"/><line x1="50.1" y1="7.0" x2="50.1" y2="13.3"/><line x1="56.7" y1="13.3" x2="53.6" y2="19.6"/><line x1="56.7" y1="7.0" x2="56.7" y2="13.3"/><line x1="66.3" y1="19.6" x2="59.8" y2="25.9"/><line x1="63.2" y1="13.3" x2="66.3" y2="19.6"/><line x1="63.2" y1="7.0" x2="63.2" y2="13.3"/><line x1="69.4" y1="13.3" x2="66.3" y2="19.6"/><line x1="69.4" y1="7.0" x2="69.4" y2="13.3"/><line x1="59.8" y1="25.9" x2="59.8" y2="38.5"/><line x1="69.4" y1="13.3" x2="76.6" y2="13.3"/><line x1="72.8" y1="42.5" x2="80.4" y2="49.7"/><line x1="69.2" y1="35.3" x2="72.8" y2="42.5"/><line x1="69.2" y1="28.1" x2="69.2" y2="35.3"/><line x1="76.6" y1="35.3" x2="72.8" y2="42.5"/><line x1="76.6" y1="28.1" x2="76.6" y2="35.3"/><line x1="87.5" y1="42.5" x2="80.4" y2="49.7"/><line x1="84.1" y1="35.3" x2="87.5" y2="42.5"/><line x1="84.1" y1="28.1" x2="84.1" y2="35.3"/><line x1="91.0" y1="35.3" x2="87.5" y2="42.5"/><line x1="91.0" y1="28.1" x2="91.0" y2="35.3"/><line x1="80.4" y1="49.7" x2="80.4" y2="64.1"/><line x1="98.4" y1="28.9" x2="103.2" y2="35.6"/><line x1="98.4" y1="22.2" x2="98.4" y2="28.9"/><line x1="98.4" y1="15.5" x2="98.4" y2="22.2"/><line x1="108.4" y1="28.9" x2="103.2" y2="35.6"/><line x1="105.3" y1="22.2" x2="108.4" y2="28.9"/><line x1="105.3" y1="15.5" x2="105.3" y2="22.2"/><line x1="111.9" y1="22.2" x2="108.4" y2="28.9"/><line x1="111.9" y1="15.5" x2="111.9" y2="22.2"/><line x1="103.2" y1="35.6" x2="103.2" y2="49.0"/><line x1="111.9" y1="22.2" x2="118.9" y2="22.2"/><line x1="116.8" y1="61.1" x2="121.6" y2="67.8"/><line x1="116.4" y1="54.4" x2="116.8" y2="61.1"/><line x1="116.4" y1="47.7" x2="116.4" y2="54.4"/><line x1="126.3" y1="61.1" x2="121.6" y2="67.8"/><line x1="123.1" y1="54.4" x2="126.3" y2="61.1"/><line x1="123.1" y1="47.7" x2="123.1" y2="54.4"/><line x1="129.7" y1="54.4" x2="126.3" y2="61.1"/><line x1="129.7" y1="47.7" x2="129.7" y2="54.4"/><line x1="121.6" y1="67.8" x2="121.6" y2="81.2"/><line x1="108.5" y1="102.9" x2="111.8" y2="110.2"/><line x1="108.5" y1="95.6" x2="108.5" y2="102.9"/><line x1="108.5" y1="88.3" x2="108.5" y2="95.6"/><line x1="115.8" y1="102.9" x2="111.8" y2="110.2"/><line x1="115.8" y1="95.6" x2="115.8" y2="102.9"/><line x1="115.8" y1="88.3" x2="115.8" y2="95.6"/><line x1="111.8" y1="110.2" x2="111.8" y2="124.8"/><line x1="115.8" y1="95.6" x2="123.0" y2="95.6"/><line x1="101.1" y1="150.2" x2="105.1" y2="158.1"/><line x1="101.1" y1="142.3" x2="101.1" y2="150.2"/><line x1="101.1" y1="134.5" x2="101.1" y2="142.3"/><line x1="109.1" y1="150.2" x2="105.1" y2="158.1"/><line x1="109.1" y1="142.3" x2="109.1" y2="150.2"/><line x1="109.1" y1="134.5" x2="109.1" y2="142.3"/><line x1="105.1" y1="158.1" x2="105.1" y2="173.8"/><line x1="137.2" y1="31.3" x2="142.9" y2="38.9"/><line x1="137.2" y1="23.7" x2="137.2" y2="31.3"/><line x1="148.5" y1="31.3" x2="142.9" y2="38.9"/><line x1="144.8" y1="23.7" x2="148.5" y2="31.3"/><line x1="152.5" y1="23.7" x2="148.5" y2="31.3"/><line x1="142.9" y1="38.9" x2="142.9" y2="54.1"/><line x1="160.7" y1="32.3" x2="164.1" y2="39.7"/><line x1="160.7" y1="24.9" x2="160.7" y2="32.3"/><line x1="167.9" y1="32.3" x2="164.1" y2="39.7"/><line x1="167.9" y1="24.9" x2="167.9" y2="32.3"/><line x1="164.1" y1="39.7" x2="164.1" y2="54.5"/><line x1="181.6" y1="29.3" x2="185.1" y2="36.8"/><line x1="188.9" y1="29.3" x2="185.1" y2="36.8"/><line x1="185.1" y1="36.8" x2="185.1" y2="51.8"/><line x1="447.6" y1="21.0" x2="451.6" y2="28.8"/><line x1="447.6" y1="13.2" x2="447.6" y2="21.0"/><line x1="447.6" y1="5.5" x2="447.6" y2="13.2"/><line x1="455.4" y1="21.0" x2="451.6" y2="28.8"/><line x1="455.4" y1="13.2" x2="455.4" y2="21.0"/><line x1="455.4" y1="5.5" x2="455.4" y2="13.2"/><line x1="451.6" y1="28.8" x2="451.6" y2="44.2"/><line x1="489.1" y1="67.4" x2="493.3" y2="75.4"/><line x1="489.1" y1="59.4" x2="489.1" y2="67.4"/><line x1="489.1" y1="51.4" x2="489.1" y2="59.4"/><line x1="497.5" y1="67.4" x2="493.3" y2="75.4"/><line x1="497.5" y1="59.4" x2="497.5" y2="67.4"/><line x1="497.5" y1="51.4" x2="497.5" y2="59.4"/><line x1="493.3" y1="75.4" x2="493.3" y2="91.4"/><line x1="497.5" y1="59.4" x2="505.7" y2="59.4"/><line x1="530.8" y1="116.4" x2="536.4" y2="123.9"/><line x1="530.5" y1="108.9" x2="530.8" y2="116.4"/><line x1="530.5" y1="101.4" x2="530.5" y2="108.9"/><line x1="541.9" y1="116.4" x2="536.4" y2="123.9"/><line x1="538.1" y1="108.9" x2="541.9" y2="116.4"/><line x1="538.1" y1="101.4" x2="538.1" y2="108.9"/><line x1="545.3" y1="108.9" x2="541.9" y2="116.4"/><line x1="545.3" y1="101.4" x2="545.3" y2="108.9"/><line x1="536.4" y1="123.9" x2="536.4" y2="138.9"/><line x1="578.6" y1="152.4" x2="583.9" y2="159.8"/><line x1="578.2" y1="145.0" x2="578.6" y2="152.4"/><line x1="578.2" y1="137.6" x2="578.2" y2="145.0"/><line x1="589.6" y1="152.4" x2="583.9" y2="159.8"/><line x1="585.8" y1="145.0" x2="589.6" y2="152.4"/><line x1="585.8" y1="137.6" x2="585.8" y2="145.0"/><line x1="593.2" y1="145.0" x2="589.6" y2="152.4"/><line x1="593.2" y1="137.6" x2="593.2" y2="145.0"/><line x1="583.9" y1="159.8" x2="583.9" y2="174.6"/><line x1="593.2" y1="145.0" x2="600.4" y2="145.0"/><line x1="626.6" y1="175.8" x2="633.7" y2="182.8"/><line x1="622.8" y1="168.8" x2="626.6" y2="175.8"/><line x1="622.8" y1="161.8" x2="622.8" y2="168.8"/><line x1="630.2" y1="168.8" x2="626.6" y2="175.8"/><line x1="630.2" y1="161.8" x2="630.2" y2="168.8"/><line x1="640.6" y1="175.8" x2="633.7" y2="182.8"/><line x1="637.0" y1="168.8" x2="640.6" y2="175.8"/><line x1="637.0" y1="161.8" x2="637.0" y2="168.8"/><line x1="644.4" y1="168.8" x2="640.6" y2="175.8"/><line x1="644.4" y1="161.8" x2="644.4" y2="168.8"/><line x1="633.7" y1="182.8" x2="633.7" y2="196.8"/><line x1="676.4" y1="188.8" x2="683.2" y2="195.7"/><line x1="672.8" y1="181.9" x2="676.4" y2="188.8"/><line x1="672.8" y1="175.0" x2="672.8" y2="181.9"/><line x1="680.0" y1="181.9" x2="676.4" y2="188.8"/><line x1="680.0" y1="175.0" x2="680.0" y2="181.9"/><line x1="690.2" y1="188.8" x2="683.2" y2="195.7"/><line x1="686.7" y1="181.9" x2="690.2" y2="188.8"/><line x1="686.7" y1="175.0" x2="686.7" y2="181.9"/><line x1="693.8" y1="181.9" x2="690.2" y2="188.8"/><line x1="693.8" y1="175.0" x2="693.8" y2="181.9"/><line x1="683.2" y1="195.7" x2="683.2" y2="209.5"/><line x1="693.8" y1="181.9" x2="701.2" y2="181.9"/></g>
<circle cx="50.1" cy="7.0" r="1.35" fill="#f4f28e" stroke="#d6d23c" stroke-width="0.65"/><rect x="48.73" y="11.93" width="2.74" height="2.74" fill="#14149e"/><circle cx="56.7" cy="7.0" r="1.35" fill="#f4f28e" stroke="#d6d23c" stroke-width="0.65"/><rect x="55.33" y="11.93" width="2.74" height="2.74" fill="#14149e"/><circle cx="53.6" cy="19.6" r="1.43" fill="#48b848"/><circle cx="63.2" cy="7.0" r="1.35" fill="#f4f28e" stroke="#d6d23c" stroke-width="0.65"/><rect x="61.83" y="11.93" width="2.74" height="2.74" fill="#14149e"/><circle cx="69.4" cy="7.0" r="1.35" fill="#f4f28e" stroke="#d6d23c" stroke-width="0.65"/><rect x="68.03" y="11.93" width="2.74" height="2.74" fill="#14149e"/><circle cx="66.3" cy="19.6" r="1.43" fill="#48b848"/><circle cx="59.8" cy="25.9" r="1.43" fill="#48b848"/><rect x="58.43" y="30.83" width="2.74" height="2.74" fill="#14149e"/><rect x="58.43" y="37.13" width="2.74" height="2.74" fill="#14149e"/><path d="M75.20 13.30 L77.86 12.11 L77.86 14.49Z" fill="#aa2232"/><circle cx="69.2" cy="28.1" r="1.54" fill="#f4f28e" stroke="#d6d23c" stroke-width="0.65"/><rect x="67.63" y="33.73" width="3.13" height="3.13" fill="#14149e"/><circle cx="76.6" cy="28.1" r="1.54" fill="#f4f28e" stroke="#d6d23c" stroke-width="0.65"/><rect x="75.03" y="33.73" width="3.13" height="3.13" fill="#14149e"/><circle cx="72.8" cy="42.5" r="1.64" fill="#48b848"/><circle cx="84.1" cy="28.1" r="1.54" fill="#f4f28e" stroke="#d6d23c" stroke-width="0.65"/><rect x="82.53" y="33.73" width="3.13" height="3.13" fill="#14149e"/><circle cx="91.0" cy="28.1" r="1.54" fill="#f4f28e" stroke="#d6d23c" stroke-width="0.65"/><rect x="89.43" y="33.73" width="3.13" height="3.13" fill="#14149e"/><circle cx="87.5" cy="42.5" r="1.64" fill="#48b848"/><circle cx="80.4" cy="49.7" r="1.64" fill="#48b848"/><rect x="78.83" y="55.33" width="3.13" height="3.13" fill="#14149e"/><rect x="78.83" y="62.53" width="3.13" height="3.13" fill="#14149e"/><circle cx="98.4" cy="15.5" r="1.44" fill="#f4f28e" stroke="#d6d23c" stroke-width="0.65"/><rect x="96.94" y="20.74" width="2.91" height="2.91" fill="#14149e"/><circle cx="98.4" cy="28.9" r="1.52" fill="#48b848"/><circle cx="105.3" cy="15.5" r="1.44" fill="#f4f28e" stroke="#d6d23c" stroke-width="0.65"/><rect x="103.84" y="20.74" width="2.91" height="2.91" fill="#14149e"/><circle cx="111.9" cy="15.5" r="1.44" fill="#f4f28e" stroke="#d6d23c" stroke-width="0.65"/><rect x="110.44" y="20.74" width="2.91" height="2.91" fill="#14149e"/><circle cx="108.4" cy="28.9" r="1.52" fill="#48b848"/><circle cx="103.2" cy="35.6" r="1.52" fill="#48b848"/><rect x="101.74" y="40.84" width="2.91" height="2.91" fill="#14149e"/><rect x="101.74" y="47.54" width="2.91" height="2.91" fill="#14149e"/><path d="M117.50 22.20 L120.16 21.01 L120.16 23.39Z" fill="#aa2232"/><circle cx="116.4" cy="47.7" r="1.44" fill="#f4f28e" stroke="#d6d23c" stroke-width="0.65"/><rect x="114.94" y="52.94" width="2.91" height="2.91" fill="#14149e"/><circle cx="116.8" cy="61.1" r="1.52" fill="#48b848"/><circle cx="123.1" cy="47.7" r="1.44" fill="#f4f28e" stroke="#d6d23c" stroke-width="0.65"/><rect x="121.64" y="52.94" width="2.91" height="2.91" fill="#14149e"/><circle cx="129.7" cy="47.7" r="1.44" fill="#f4f28e" stroke="#d6d23c" stroke-width="0.65"/><rect x="128.24" y="52.94" width="2.91" height="2.91" fill="#14149e"/><circle cx="126.3" cy="61.1" r="1.52" fill="#48b848"/><circle cx="121.6" cy="67.8" r="1.52" fill="#48b848"/><rect x="120.14" y="73.04" width="2.91" height="2.91" fill="#14149e"/><rect x="120.14" y="79.74" width="2.91" height="2.91" fill="#14149e"/><circle cx="108.5" cy="88.3" r="1.56" fill="#f4f28e" stroke="#d6d23c" stroke-width="0.65"/><rect x="106.91" y="94.01" width="3.18" height="3.18" fill="#14149e"/><circle cx="108.5" cy="102.9" r="1.66" fill="#48b848"/><circle cx="115.8" cy="88.3" r="1.56" fill="#f4f28e" stroke="#d6d23c" stroke-width="0.65"/><rect x="114.21" y="94.01" width="3.18" height="3.18" fill="#14149e"/><circle cx="115.8" cy="102.9" r="1.66" fill="#48b848"/><circle cx="111.8" cy="110.2" r="1.66" fill="#48b848"/><rect x="110.21" y="115.91" width="3.18" height="3.18" fill="#14149e"/><rect x="110.21" y="123.21" width="3.18" height="3.18" fill="#14149e"/><path d="M121.60 95.60 L124.26 94.41 L124.26 96.79Z" fill="#aa2232"/><circle cx="101.1" cy="134.5" r="1.68" fill="#f4f28e" stroke="#d6d23c" stroke-width="0.65"/><rect x="99.39" y="140.64" width="3.42" height="3.42" fill="#14149e"/><circle cx="101.1" cy="150.2" r="1.78" fill="#48b848"/><circle cx="109.1" cy="134.5" r="1.68" fill="#f4f28e" stroke="#d6d23c" stroke-width="0.65"/><rect x="107.39" y="140.64" width="3.42" height="3.42" fill="#14149e"/><circle cx="109.1" cy="150.2" r="1.78" fill="#48b848"/><circle cx="105.1" cy="158.1" r="1.78" fill="#48b848"/><rect x="103.39" y="164.19" width="3.42" height="3.42" fill="#14149e"/><rect x="103.39" y="172.04" width="3.42" height="3.42" fill="#14149e"/><rect x="135.55" y="22.05" width="3.31" height="3.31" fill="#14149e"/><circle cx="137.2" cy="31.3" r="1.73" fill="#48b848"/><rect x="143.15" y="22.05" width="3.31" height="3.31" fill="#14149e"/><rect x="150.85" y="22.05" width="3.31" height="3.31" fill="#14149e"/><circle cx="148.5" cy="31.3" r="1.73" fill="#48b848"/><circle cx="142.9" cy="38.9" r="1.73" fill="#48b848"/><rect x="141.25" y="44.85" width="3.31" height="3.31" fill="#14149e"/><rect x="141.25" y="52.45" width="3.31" height="3.31" fill="#14149e"/><rect x="159.09" y="23.29" width="3.22" height="3.22" fill="#14149e"/><circle cx="160.7" cy="32.3" r="1.68" fill="#48b848"/><rect x="166.29" y="23.29" width="3.22" height="3.22" fill="#14149e"/><circle cx="167.9" cy="32.3" r="1.68" fill="#48b848"/><circle cx="164.1" cy="39.7" r="1.68" fill="#48b848"/><rect x="162.49" y="45.49" width="3.22" height="3.22" fill="#14149e"/><rect x="162.49" y="52.89" width="3.22" height="3.22" fill="#14149e"/><circle cx="181.6" cy="29.3" r="1.70" fill="#48b848"/><circle cx="188.9" cy="29.3" r="1.70" fill="#48b848"/><circle cx="185.1" cy="36.8" r="1.70" fill="#48b848"/><rect x="183.47" y="42.67" width="3.26" height="3.26" fill="#14149e"/><rect x="183.47" y="50.17" width="3.26" height="3.26" fill="#14149e"/><rect x="233.62" y="48.92" width="3.75" height="3.75" fill="#14149e"/><circle cx="447.6" cy="5.5" r="1.66" fill="#f4f28e" stroke="#d6d23c" stroke-width="0.65"/><rect x="445.91" y="11.56" width="3.37" height="3.37" fill="#14149e"/><circle cx="447.6" cy="21.0" r="1.76" fill="#48b848"/><circle cx="455.4" cy="5.5" r="1.66" fill="#f4f28e" stroke="#d6d23c" stroke-width="0.65"/><rect x="453.71" y="11.56" width="3.37" height="3.37" fill="#14149e"/><circle cx="455.4" cy="21.0" r="1.76" fill="#48b848"/><circle cx="451.6" cy="28.8" r="1.76" fill="#48b848"/><rect x="449.91" y="34.81" width="3.37" height="3.37" fill="#14149e"/><rect x="449.91" y="42.56" width="3.37" height="3.37" fill="#14149e"/><circle cx="489.1" cy="51.4" r="1.71" fill="#f4f28e" stroke="#d6d23c" stroke-width="0.65"/><rect x="487.36" y="57.66" width="3.48" height="3.48" fill="#14149e"/><circle cx="489.1" cy="67.4" r="1.82" fill="#48b848"/><circle cx="497.5" cy="51.4" r="1.71" fill="#f4f28e" stroke="#d6d23c" stroke-width="0.65"/><rect x="495.76" y="57.66" width="3.48" height="3.48" fill="#14149e"/><circle cx="497.5" cy="67.4" r="1.82" fill="#48b848"/><circle cx="493.3" cy="75.4" r="1.82" fill="#48b848"/><rect x="491.56" y="81.66" width="3.48" height="3.48" fill="#14149e"/><rect x="491.56" y="89.66" width="3.48" height="3.48" fill="#14149e"/><path d="M503.90 59.40 L507.32 57.87 L507.32 60.93Z" fill="#aa2232"/><circle cx="530.5" cy="101.4" r="1.61" fill="#f4f28e" stroke="#d6d23c" stroke-width="0.65"/><rect x="528.87" y="107.27" width="3.26" height="3.26" fill="#14149e"/><circle cx="530.8" cy="116.4" r="1.70" fill="#48b848"/><circle cx="538.1" cy="101.4" r="1.61" fill="#f4f28e" stroke="#d6d23c" stroke-width="0.65"/><rect x="536.47" y="107.27" width="3.26" height="3.26" fill="#14149e"/><circle cx="545.3" cy="101.4" r="1.61" fill="#f4f28e" stroke="#d6d23c" stroke-width="0.65"/><rect x="543.67" y="107.27" width="3.26" height="3.26" fill="#14149e"/><circle cx="541.9" cy="116.4" r="1.70" fill="#48b848"/><circle cx="536.4" cy="123.9" r="1.70" fill="#48b848"/><rect x="534.77" y="129.77" width="3.26" height="3.26" fill="#14149e"/><rect x="534.77" y="137.27" width="3.26" height="3.26" fill="#14149e"/><circle cx="578.2" cy="137.6" r="1.59" fill="#f4f28e" stroke="#d6d23c" stroke-width="0.65"/><rect x="576.59" y="143.39" width="3.22" height="3.22" fill="#14149e"/><circle cx="578.6" cy="152.4" r="1.68" fill="#48b848"/><circle cx="585.8" cy="137.6" r="1.59" fill="#f4f28e" stroke="#d6d23c" stroke-width="0.65"/><rect x="584.19" y="143.39" width="3.22" height="3.22" fill="#14149e"/><circle cx="593.2" cy="137.6" r="1.59" fill="#f4f28e" stroke="#d6d23c" stroke-width="0.65"/><rect x="591.59" y="143.39" width="3.22" height="3.22" fill="#14149e"/><circle cx="589.6" cy="152.4" r="1.68" fill="#48b848"/><circle cx="583.9" cy="159.8" r="1.68" fill="#48b848"/><rect x="582.29" y="165.59" width="3.22" height="3.22" fill="#14149e"/><rect x="582.29" y="172.99" width="3.22" height="3.22" fill="#14149e"/><path d="M598.60 145.00 L602.02 143.47 L602.02 146.53Z" fill="#aa2232"/><circle cx="622.8" cy="161.8" r="1.50" fill="#f4f28e" stroke="#d6d23c" stroke-width="0.65"/><rect x="621.28" y="167.28" width="3.05" height="3.05" fill="#14149e"/><circle cx="630.2" cy="161.8" r="1.50" fill="#f4f28e" stroke="#d6d23c" stroke-width="0.65"/><rect x="628.68" y="167.28" width="3.05" height="3.05" fill="#14149e"/><circle cx="626.6" cy="175.8" r="1.59" fill="#48b848"/><circle cx="637.0" cy="161.8" r="1.50" fill="#f4f28e" stroke="#d6d23c" stroke-width="0.65"/><rect x="635.48" y="167.28" width="3.05" height="3.05" fill="#14149e"/><circle cx="644.4" cy="161.8" r="1.50" fill="#f4f28e" stroke="#d6d23c" stroke-width="0.65"/><rect x="642.88" y="167.28" width="3.05" height="3.05" fill="#14149e"/><circle cx="640.6" cy="175.8" r="1.59" fill="#48b848"/><circle cx="633.7" cy="182.8" r="1.59" fill="#48b848"/><rect x="632.18" y="188.28" width="3.05" height="3.05" fill="#14149e"/><rect x="632.18" y="195.28" width="3.05" height="3.05" fill="#14149e"/><circle cx="672.8" cy="175.0" r="1.48" fill="#f4f28e" stroke="#d6d23c" stroke-width="0.65"/><rect x="671.30" y="180.40" width="3.00" height="3.00" fill="#14149e"/><circle cx="680.0" cy="175.0" r="1.48" fill="#f4f28e" stroke="#d6d23c" stroke-width="0.65"/><rect x="678.50" y="180.40" width="3.00" height="3.00" fill="#14149e"/><circle cx="676.4" cy="188.8" r="1.57" fill="#48b848"/><circle cx="686.7" cy="175.0" r="1.48" fill="#f4f28e" stroke="#d6d23c" stroke-width="0.65"/><rect x="685.20" y="180.40" width="3.00" height="3.00" fill="#14149e"/><circle cx="693.8" cy="175.0" r="1.48" fill="#f4f28e" stroke="#d6d23c" stroke-width="0.65"/><rect x="692.30" y="180.40" width="3.00" height="3.00" fill="#14149e"/><circle cx="690.2" cy="188.8" r="1.57" fill="#48b848"/><circle cx="683.2" cy="195.7" r="1.57" fill="#48b848"/><rect x="681.70" y="201.10" width="3.00" height="3.00" fill="#14149e"/><rect x="681.70" y="208.00" width="3.00" height="3.00" fill="#14149e"/><path d="M699.40 181.90 L702.82 180.37 L702.82 183.43Z" fill="#aa2232"/>
<path d="M412.0 12.9 V253.3 H708" fill="none" stroke="#1e1e1e" stroke-width="1.45"/>
<line x1="409.0" y1="252.62" x2="412.0" y2="252.62" stroke="#1e1e1e" stroke-width="1.1"/>
<line x1="407.0" y1="235.50" x2="412.0" y2="235.50" stroke="#1e1e1e" stroke-width="1.1"/>
<text x="372.44" y="239.50" font-size="13.1" textLength="31.40" lengthAdjust="spacingAndGlyphs" >0.950</text>
<line x1="409.0" y1="218.37" x2="412.0" y2="218.37" stroke="#1e1e1e" stroke-width="1.1"/>
<line x1="407.0" y1="201.25" x2="412.0" y2="201.25" stroke="#1e1e1e" stroke-width="1.1"/>
<text x="372.56" y="205.25" font-size="13.1" textLength="31.40" lengthAdjust="spacingAndGlyphs" >0.951</text>
<line x1="409.0" y1="184.12" x2="412.0" y2="184.12" stroke="#1e1e1e" stroke-width="1.1"/>
<line x1="407.0" y1="167.00" x2="412.0" y2="167.00" stroke="#1e1e1e" stroke-width="1.1"/>
<text x="372.56" y="171.00" font-size="13.1" textLength="31.40" lengthAdjust="spacingAndGlyphs" >0.952</text>
<line x1="409.0" y1="149.87" x2="412.0" y2="149.87" stroke="#1e1e1e" stroke-width="1.1"/>
<line x1="407.0" y1="132.75" x2="412.0" y2="132.75" stroke="#1e1e1e" stroke-width="1.1"/>
<text x="372.50" y="136.75" font-size="13.1" textLength="31.40" lengthAdjust="spacingAndGlyphs" >0.953</text>
<line x1="409.0" y1="115.62" x2="412.0" y2="115.62" stroke="#1e1e1e" stroke-width="1.1"/>
<line x1="407.0" y1="98.50" x2="412.0" y2="98.50" stroke="#1e1e1e" stroke-width="1.1"/>
<text x="372.31" y="102.50" font-size="13.1" textLength="31.40" lengthAdjust="spacingAndGlyphs" >0.954</text>
<line x1="409.0" y1="81.37" x2="412.0" y2="81.37" stroke="#1e1e1e" stroke-width="1.1"/>
<line x1="407.0" y1="64.25" x2="412.0" y2="64.25" stroke="#1e1e1e" stroke-width="1.1"/>
<text x="372.44" y="68.25" font-size="13.1" textLength="31.40" lengthAdjust="spacingAndGlyphs" >0.955</text>
<line x1="409.0" y1="47.12" x2="412.0" y2="47.12" stroke="#1e1e1e" stroke-width="1.1"/>
<line x1="407.0" y1="30.00" x2="412.0" y2="30.00" stroke="#1e1e1e" stroke-width="1.1"/>
<text x="372.50" y="34.00" font-size="13.1" textLength="31.40" lengthAdjust="spacingAndGlyphs" >0.956</text>
<line x1="411.73" y1="253.3" x2="411.73" y2="256.3" stroke="#1e1e1e" stroke-width="1.1"/>
<line x1="436.40" y1="253.3" x2="436.40" y2="258.3" stroke="#1e1e1e" stroke-width="1.1"/>
<text x="433.18" y="271.20" font-size="12.25" textLength="6.65" lengthAdjust="spacingAndGlyphs" >9</text>
<line x1="461.06" y1="253.3" x2="461.06" y2="256.3" stroke="#1e1e1e" stroke-width="1.1"/>
<line x1="485.73" y1="253.3" x2="485.73" y2="258.3" stroke="#1e1e1e" stroke-width="1.1"/>
<text x="478.98" y="271.20" font-size="12.25" textLength="13.30" lengthAdjust="spacingAndGlyphs" >10</text>
<line x1="510.39" y1="253.3" x2="510.39" y2="256.3" stroke="#1e1e1e" stroke-width="1.1"/>
<line x1="535.06" y1="253.3" x2="535.06" y2="258.3" stroke="#1e1e1e" stroke-width="1.1"/>
<text x="528.82" y="271.20" font-size="12.25" textLength="12.42" lengthAdjust="spacingAndGlyphs" >11</text>
<line x1="559.72" y1="253.3" x2="559.72" y2="256.3" stroke="#1e1e1e" stroke-width="1.1"/>
<line x1="584.39" y1="253.3" x2="584.39" y2="258.3" stroke="#1e1e1e" stroke-width="1.1"/>
<text x="577.70" y="271.20" font-size="12.25" textLength="13.30" lengthAdjust="spacingAndGlyphs" >12</text>
<line x1="609.05" y1="253.3" x2="609.05" y2="256.3" stroke="#1e1e1e" stroke-width="1.1"/>
<line x1="633.72" y1="253.3" x2="633.72" y2="258.3" stroke="#1e1e1e" stroke-width="1.1"/>
<text x="627.00" y="271.20" font-size="12.25" textLength="13.30" lengthAdjust="spacingAndGlyphs" >13</text>
<line x1="658.38" y1="253.3" x2="658.38" y2="256.3" stroke="#1e1e1e" stroke-width="1.1"/>
<line x1="683.05" y1="253.3" x2="683.05" y2="258.3" stroke="#1e1e1e" stroke-width="1.1"/>
<text x="676.24" y="271.20" font-size="12.25" textLength="13.30" lengthAdjust="spacingAndGlyphs" >14</text>
<line x1="707.71" y1="253.3" x2="707.71" y2="256.3" stroke="#1e1e1e" stroke-width="1.1"/>
<text x="481.46" y="287.20" font-size="11.5" textLength="191.29" lengthAdjust="spacingAndGlyphs" >Number of monosacharides units</text>
<text x="347.21" y="27.90" font-size="16.9" font-weight="bold" textLength="22.62" lengthAdjust="spacingAndGlyphs" >(b)</text>
<text transform="translate(362.30,167.84) rotate(-90)" font-size="13" textLength="46.37" lengthAdjust="spacingAndGlyphs" >RRT (tr</text>
<text transform="translate(366.70,120.68) rotate(-90)" font-size="7.5" textLength="4.84" lengthAdjust="spacingAndGlyphs" >X</text>
<text transform="translate(362.30,116.50) rotate(-90)" font-size="13" textLength="14.81" lengthAdjust="spacingAndGlyphs" >/tr</text>
<text transform="translate(367.50,101.90) rotate(-90)" font-size="7.8" textLength="27.40" lengthAdjust="spacingAndGlyphs" >GlcNAc</text>
<text transform="translate(360.20,74.69) rotate(-90)" font-size="10.5" textLength="6.40" lengthAdjust="spacingAndGlyphs" >)</text>
<text x="568.62" y="104.00" font-size="14.6" textLength="11.53" lengthAdjust="spacingAndGlyphs" >R</text>
<text x="579.65" y="97.60" font-size="7.8" textLength="3.91" lengthAdjust="spacingAndGlyphs" >2</text>
<text x="584.07" y="104.00" font-size="14.6" textLength="53.46" lengthAdjust="spacingAndGlyphs" >=0.9968</text>
<path d="M436.50 42.49 L439.62 46.86 L442.73 51.17 L445.85 55.43 L448.97 59.63 L452.08 63.79 L455.20 67.88 L458.32 71.93 L461.43 75.92 L464.55 79.86 L467.66 83.74 L470.78 87.57 L473.90 91.35 L477.01 95.07 L480.13 98.74 L483.25 102.36 L486.36 105.92 L489.48 109.43 L492.60 112.89 L495.71 116.29 L498.83 119.64 L501.95 122.93 L505.06 126.17 L508.18 129.36 L511.29 132.50 L514.41 135.58 L517.53 138.60 L520.64 141.58 L523.76 144.50 L526.88 147.37 L529.99 150.18 L533.11 152.94 L536.23 155.65 L539.34 158.30 L542.46 160.90 L545.58 163.45 L548.69 165.94 L551.81 168.38 L554.93 170.76 L558.04 173.10 L561.16 175.37 L564.27 177.60 L567.39 179.77 L570.51 181.89 L573.62 183.95 L576.74 185.96 L579.86 187.92 L582.97 189.82 L586.09 191.68 L589.21 193.47 L592.32 195.22 L595.44 196.91 L598.56 198.54 L601.67 200.12 L604.79 201.65 L607.91 203.13 L611.02 204.55 L614.14 205.92 L617.25 207.24 L620.37 208.50 L623.49 209.71 L626.60 210.86 L629.72 211.96 L632.84 213.01 L635.95 214.00 L639.07 214.94 L642.19 215.83 L645.30 216.67 L648.42 217.45 L651.54 218.17 L654.65 218.84 L657.77 219.46 L660.88 220.03 L664.00 220.54 L667.12 221.00 L670.23 221.41 L673.35 221.76 L676.47 222.06 L679.58 222.30 L682.70 222.49" fill="none" stroke="#2c2c2c" stroke-width="1.15"/>
<path d="M436.5 31.7 V50.6 M433.5 31.7 H439.5 M433.5 50.6 H439.5" stroke="#111" stroke-width="1.1" fill="none"/>
<rect x="434.0" y="38.6" width="5" height="5" fill="#000"/>
<path d="M485.5 104.4 V117.8 M482.5 104.4 H488.5 M482.5 117.8 H488.5" stroke="#111" stroke-width="1.1" fill="none"/>
<rect x="483.0" y="108.8" width="5" height="5" fill="#000"/>
<path d="M534.8 149.4 V159.8 M531.8 149.4 H537.8 M531.8 159.8 H537.8" stroke="#111" stroke-width="1.1" fill="none"/>
<rect x="532.3" y="152.1" width="5" height="5" fill="#000"/>
<path d="M584.2 182.2 V192.8 M581.2 182.2 H587.2 M581.2 192.8 H587.2" stroke="#111" stroke-width="1.1" fill="none"/>
<rect x="581.7" y="185.1" width="5" height="5" fill="#000"/>
<path d="M633.4 204.7 V218.8 M630.4 204.7 H636.4 M630.4 218.8 H636.4" stroke="#111" stroke-width="1.1" fill="none"/>
<rect x="630.9" y="209.1" width="5" height="5" fill="#000"/>
<path d="M682.7 217.7 V230.2 M679.7 217.7 H685.7 M679.7 230.2 H685.7" stroke="#111" stroke-width="1.1" fill="none"/>
<rect x="680.2" y="221.5" width="5" height="5" fill="#000"/>
</svg>
</body></html>
